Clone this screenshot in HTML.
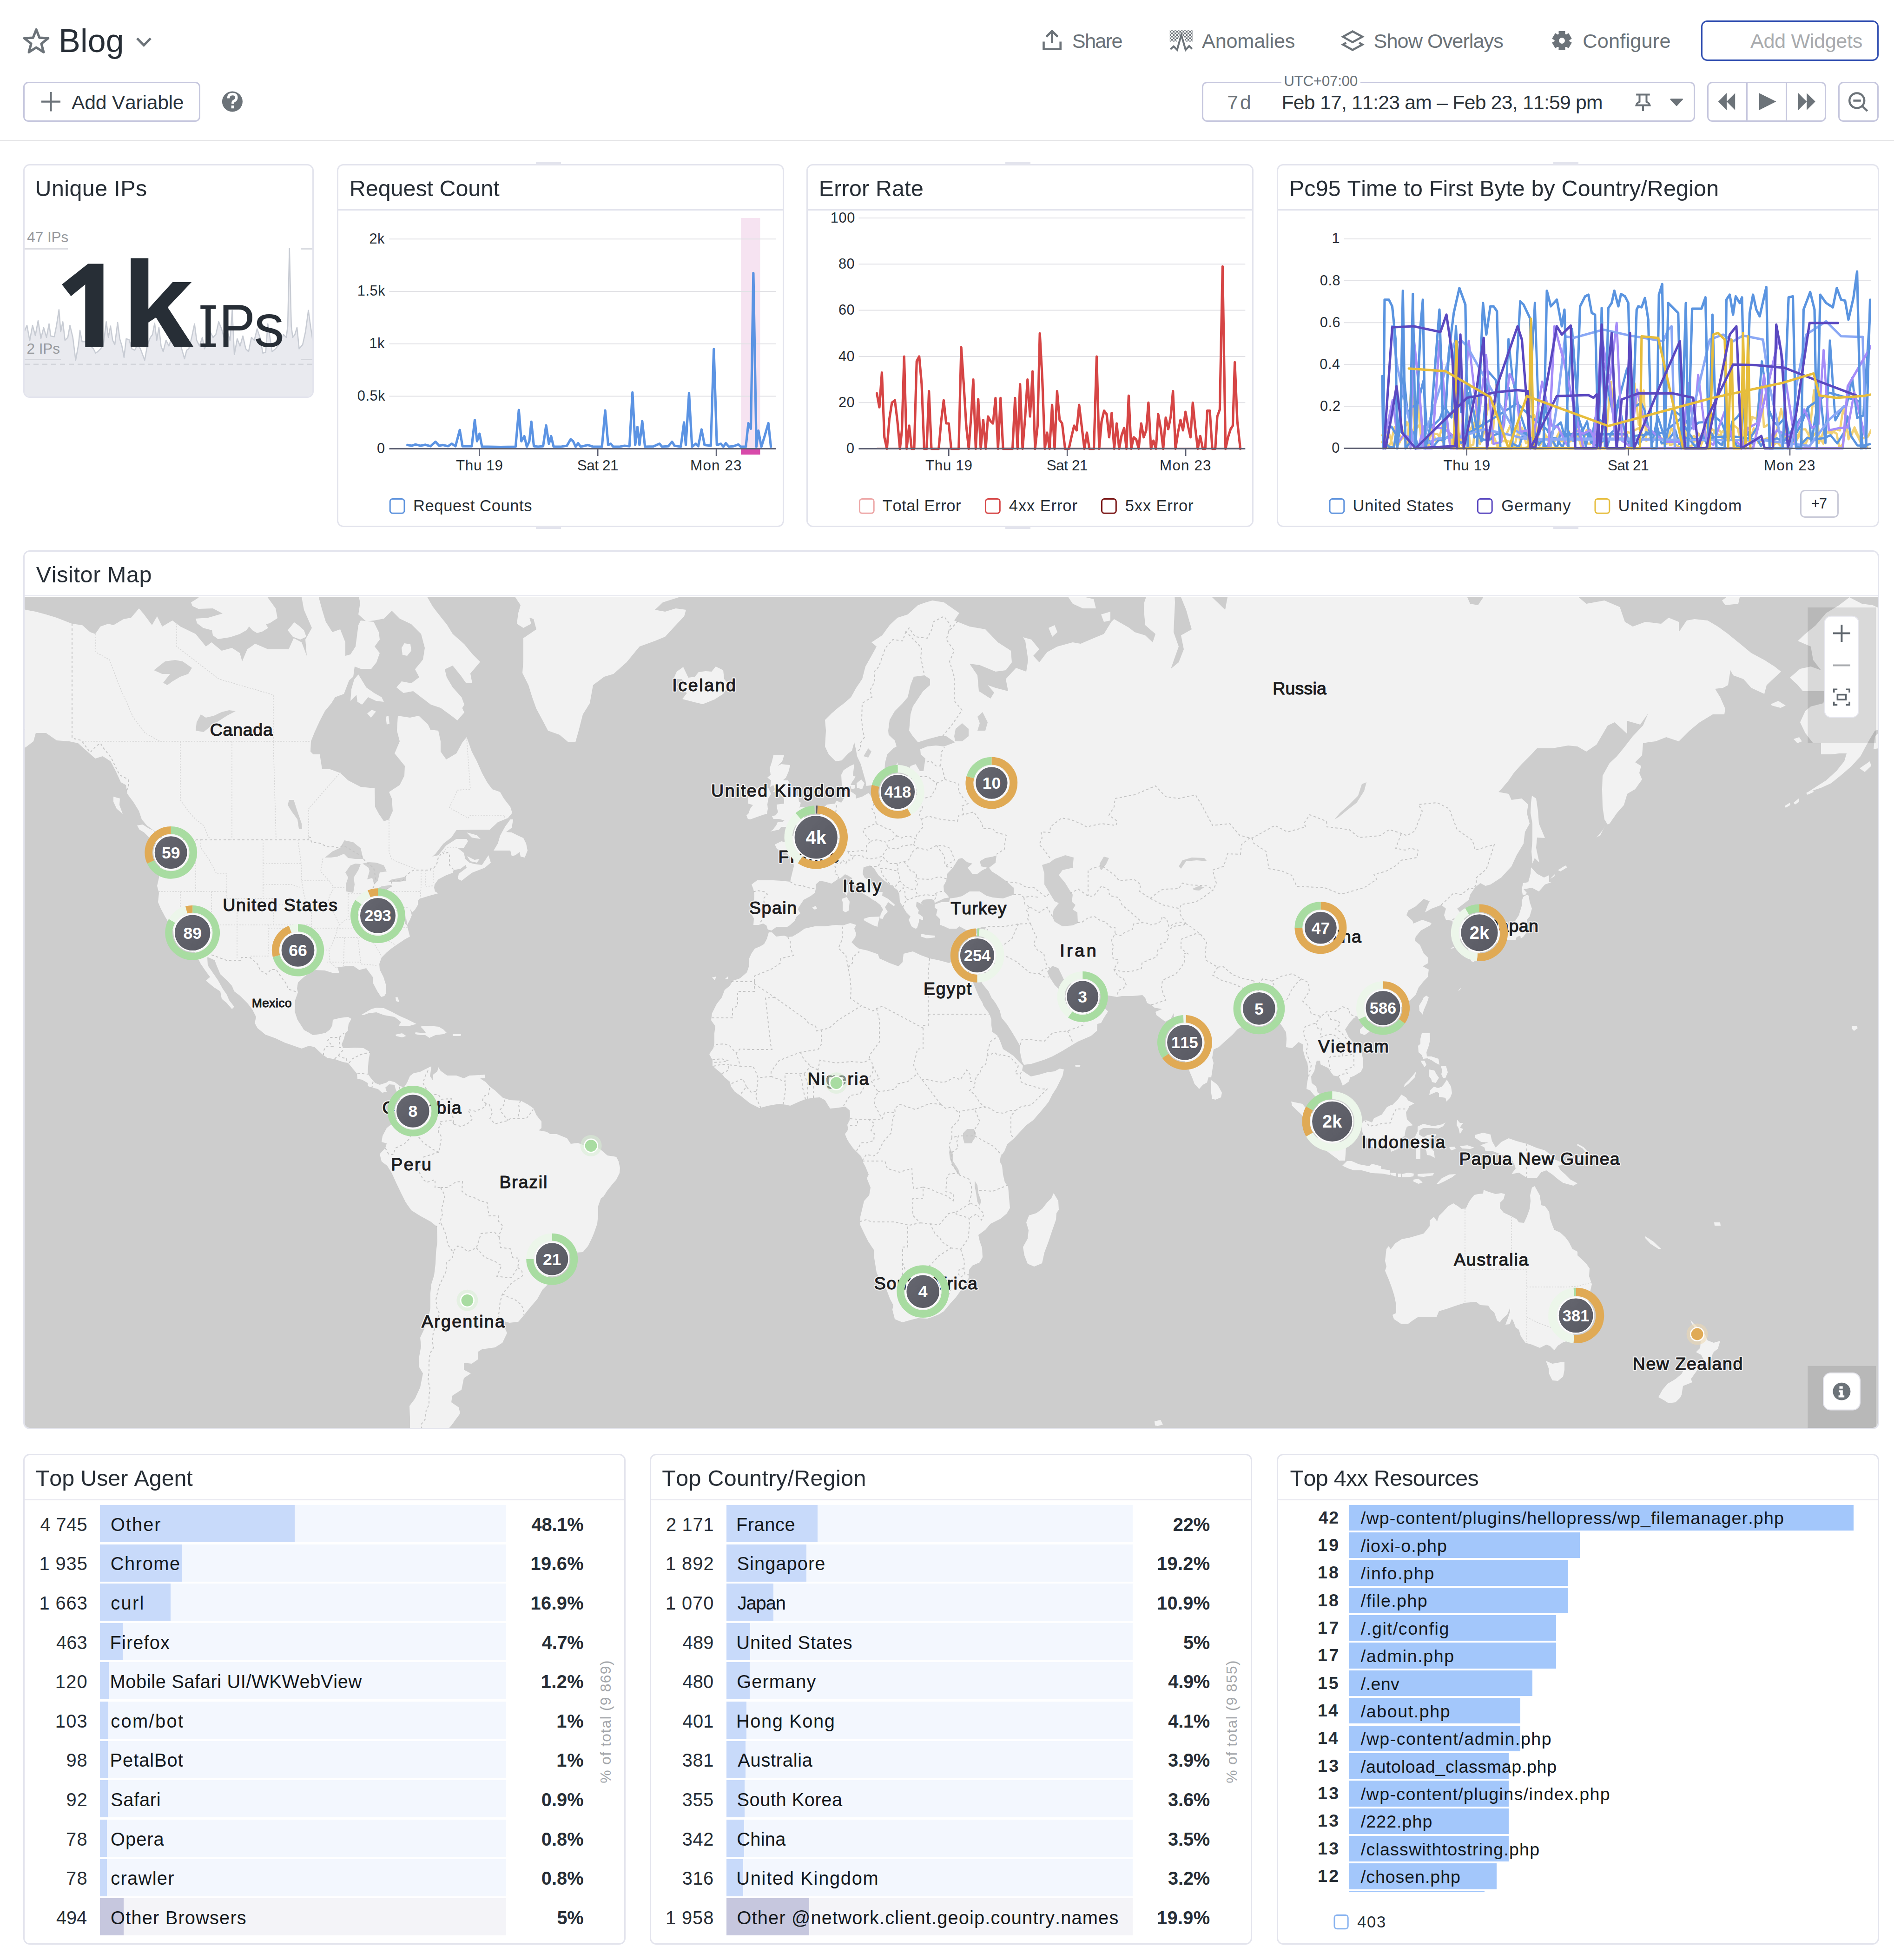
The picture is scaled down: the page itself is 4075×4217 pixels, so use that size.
<!DOCTYPE html>
<html lang="en"><head><meta charset="utf-8"><title>Blog | Datadog</title><style>
html,body{margin:0;padding:0;background:#fff}
body{width:4075px;height:4217px;position:relative;overflow:hidden;font-family:"Liberation Sans",sans-serif;color:#2b333b;font-kerning:none}
.t{position:absolute;white-space:pre;line-height:1}
.a{position:absolute}
.btn{position:absolute;box-sizing:border-box;border:3px solid #c6c7de;border-radius:11px;background:#fff}
.w{position:absolute;box-sizing:border-box;border:3px solid #e3e4ed;border-radius:14px;background:#fff;overflow:hidden}
.hl{position:absolute;left:0;right:0;height:2.5px;background:#e3e4ed}
</style></head><body>
<div class="btn" style="left:50.4px;top:175.7px;width:380.3px;height:85.9px"></div>
<div class="btn" style="left:2586px;top:175.5px;width:1061.4px;height:86px"></div>
<div class="btn" style="left:3673.2px;top:175.5px;width:255.4px;height:86px"></div>
<div class="a" style="left:3757.2px;top:177px;width:3px;height:83px;background:#c6c7de"></div>
<div class="a" style="left:3842.3px;top:177px;width:3px;height:83px;background:#c6c7de"></div>
<div class="btn" style="left:3955px;top:175.5px;width:87px;height:86px"></div>
<div class="btn" style="left:3660.4px;top:44.2px;width:381.6px;height:86.6px;border:3.6px solid #3451b2;border-radius:13px"></div>
<div class="a" style="left:2757px;top:170px;width:170px;height:12px;background:#fff"></div>
<svg class="a" style="left:0;top:0" width="4075" height="300"><defs><pattern id="chk" width="7" height="7" patternUnits="userSpaceOnUse"><rect width="3.5" height="3.5" fill="#6c7379"/><rect x="3.5" y="3.5" width="3.5" height="3.5" fill="#6c7379"/></pattern></defs><polygon points="78.0,63.5 84.8,81.1 103.7,82.2 89.0,94.1 93.9,112.3 78.0,102.1 62.1,112.3 67.0,94.1 52.3,82.2 71.2,81.1" fill="none" stroke="#6c7379" stroke-width="5.2" stroke-linejoin="round"/><polyline points="295,82.5 309.5,97.5 324,82.5" fill="none" stroke="#6c7379" stroke-width="5"/><path d="M88.9 218.7H130M109.4 197.9V239.6" stroke="#6c7379" stroke-width="4.2" fill="none"/><circle cx="499.9" cy="218.5" r="22" fill="#6c7379"/><path d="M491.5 211.5q0-9 8.6-9q8.6 0 8.6 7.6q0 5-5.2 7.3q-2.6 1.2-2.6 4.2v1.6" fill="none" stroke="#fff" stroke-width="5.6"/><rect x="497.6" y="227" width="6.2" height="6.2" fill="#fff"/><path d="M2245.5 89.6V105.7H2281.7V89.6" fill="none" stroke="#6c7379" stroke-width="4.6"/><path d="M2263.5 92.8V67.5M2251.3 79 2263.5 66.8 2275.8 79" fill="none" stroke="#6c7379" stroke-width="4.6"/><path d="M2516.7 65.3H2566.4V89.6H2551.5L2541.6 70 2531.7 89.6H2516.7Z" fill="url(#chk)"/><polyline points="2518.2,105.9 2525.2,99.8 2532.6,107.2 2541.6,74.8 2550.9,107.2 2558.5,99.1 2564.9,105" fill="none" stroke="#6c7379" stroke-width="4"/><path d="M2910.1 67.5 2931.3 79.1 2910.1 90.8 2889.4 79.1Z" fill="none" stroke="#6c7379" stroke-width="4.4" stroke-linejoin="miter"/><path d="M2896.3 92 2889.4 96 2910.1 107.5 2931.3 96 2924.3 92" fill="none" stroke="#6c7379" stroke-width="4.4"/><path d="M3354.7 73.7 L3354.4 67.9 L3366.6 67.9 L3366.3 73.7 L3369.5 75.5 L3374.4 72.5 L3380.5 83.0 L3375.4 85.7 L3375.4 89.3 L3380.5 92.0 L3374.4 102.5 L3369.5 99.5 L3366.3 101.3 L3366.6 107.1 L3354.4 107.1 L3354.7 101.3 L3351.5 99.5 L3346.6 102.5 L3340.5 92.0 L3345.6 89.3 L3345.6 85.7 L3340.5 83.0 L3346.6 72.5 L3351.5 75.5Z M3353.1 87.5 a7.4 7.4 0 1 0 14.8 0 a7.4 7.4 0 1 0 -14.8 0Z" fill="#6c7379" fill-rule="evenodd" stroke="#6c7379" stroke-width="2" stroke-linejoin="round"/><path d="M3520.2 203.4H3549.7M3527.5 203.4V219Q3521.5 221.5 3520.5 226.6H3549.5Q3548.5 221.5 3542.5 219V203.4M3535 226.6V239" fill="none" stroke="#6c7379" stroke-width="4"/><path d="M3594.7 213.6H3619.7L3607.2 227Z" fill="#6c7379" stroke="#6c7379" stroke-width="2.5" stroke-linejoin="round"/><path d="M3696.8 218.6 3715 200.2V237ZM3715 218.6 3733.2 200.2V237Z" fill="#6c7379"/><path d="M3784.7 200.2 3821.5 218.6 3784.7 237Z" fill="#6c7379"/><path d="M3869 200.2 3887.2 218.6 3869 237ZM3887.2 200.2 3905.7 218.6 3887.2 237Z" fill="#6c7379"/><circle cx="3995.2" cy="216.5" r="16" fill="none" stroke="#6c7379" stroke-width="4.4"/><path d="M3987.4 216.5H4003.7M4007 228.5 4017.8 238.8" fill="none" stroke="#6c7379" stroke-width="4.4"/></svg>
<span class="t" style="left:126.2px;top:53.6px;font-size:69.8px;letter-spacing:0.23px;color:#272e36;">Blog</span>
<span class="t" style="left:154.0px;top:198.5px;font-size:42.7px;letter-spacing:-0.26px;">Add Variable</span>
<span class="t" style="left:2306.7px;top:66.8px;font-size:43.2px;letter-spacing:-1.60px;color:#6c7379;">Share</span>
<span class="t" style="left:2586.0px;top:66.8px;font-size:43.2px;letter-spacing:-0.16px;color:#6c7379;">Anomalies</span>
<span class="t" style="left:2955.6px;top:66.8px;font-size:43.2px;letter-spacing:-0.93px;color:#6c7379;">Show Overlays</span>
<span class="t" style="left:3405.3px;top:66.8px;font-size:43.2px;letter-spacing:0.24px;color:#6c7379;">Configure</span>
<span class="t" style="left:3766.0px;top:66.8px;font-size:43.2px;letter-spacing:-0.36px;color:#a9abae;">Add Widgets</span>
<span class="t" style="left:2762.2px;top:158.8px;font-size:31.5px;letter-spacing:-0.37px;color:#6c7379;">UTC+07:00</span>
<span class="t" style="left:2640.3px;top:198.6px;font-size:42.7px;letter-spacing:3.87px;color:#6c7379;">7d</span>
<span class="t" style="left:2757.5px;top:198.6px;font-size:42.7px;letter-spacing:-0.75px;">Feb 17, 11:23 am – Feb 23, 11:59 pm</span>
<div class="a" style="left:0;top:301px;width:4075px;height:2px;background:#e6e6e8"></div>
<div class="w" style="left:50px;top:353px;width:625px;height:503px">
<svg class="a" style="left:0;top:0" width="619" height="497"><path d="M0.0 356.0 L5.0 344.0 L11.0 377.0 L17.0 344.0 L23.0 366.0 L29.0 334.0 L35.0 372.0 L41.0 349.0 L47.0 370.0 L52.5 340.9 L56.2 366.9 L63.8 368.5 L68.4 345.5 L73.9 310.3 L77.6 357.7 L82.2 336.3 L86.8 376.1 L92.9 370.0 L97.5 344.0 L103.7 370.0 L109.8 419.0 L115.9 385.3 L119.0 354.7 L123.6 379.2 L131.2 379.2 L138.9 385.3 L148.1 394.5 L152.6 403.7 L157.2 400.6 L163.4 394.5 L169.5 385.3 L175.6 336.3 L180.2 370.0 L184.8 345.5 L189.4 376.1 L194.0 385.3 L200.1 337.8 L204.7 373.1 L209.3 388.4 L213.9 412.9 L218.5 373.1 L224.6 374.6 L230.7 394.5 L236.9 397.5 L243.0 385.3 L249.1 394.5 L258.3 419.0 L264.4 385.3 L270.5 370.0 L275.1 363.9 L279.7 339.4 L284.3 376.1 L288.9 348.6 L293.5 388.4 L298.1 400.6 L304.2 376.1 L310.4 388.4 L316.5 370.0 L322.6 385.3 L331.8 370.0 L337.9 394.5 L344.0 415.9 L348.6 397.5 L353.2 394.5 L359.4 370.0 L365.5 340.9 L370.1 376.1 L376.2 388.4 L382.3 370.0 L386.9 394.5 L393.0 382.2 L399.2 357.7 L405.3 370.0 L411.4 363.9 L417.5 336.3 L423.7 351.6 L429.8 373.1 L435.9 357.7 L442.0 376.1 L446.6 311.8 L451.2 406.7 L457.4 373.1 L463.5 388.4 L469.6 366.9 L475.7 394.5 L481.8 400.6 L488.0 370.0 L494.1 376.1 L500.2 351.6 L506.3 370.0 L512.5 403.7 L518.6 402.1 L523.2 340.9 L527.8 370.0 L532.4 400.6 L540.0 394.5 L549.2 382.2 L556.9 363.9 L563.0 370.0 L566.1 345.5 L569.7 178.6 L573.7 345.5 L576.8 370.0 L581.4 363.9 L586.0 348.6 L590.6 394.5 L598.2 385.3 L604.3 357.7 L610.5 311.8 L615.1 345.5 L619.7 376.1 L622.0 379.0 L622.0 497 L0.0 497Z" fill="#e9eaef"/><polyline points="0.0,356.0 5.0,344.0 11.0,377.0 17.0,344.0 23.0,366.0 29.0,334.0 35.0,372.0 41.0,349.0 47.0,370.0 52.5,340.9 56.2,366.9 63.8,368.5 68.4,345.5 73.9,310.3 77.6,357.7 82.2,336.3 86.8,376.1 92.9,370.0 97.5,344.0 103.7,370.0 109.8,419.0 115.9,385.3 119.0,354.7 123.6,379.2 131.2,379.2 138.9,385.3 148.1,394.5 152.6,403.7 157.2,400.6 163.4,394.5 169.5,385.3 175.6,336.3 180.2,370.0 184.8,345.5 189.4,376.1 194.0,385.3 200.1,337.8 204.7,373.1 209.3,388.4 213.9,412.9 218.5,373.1 224.6,374.6 230.7,394.5 236.9,397.5 243.0,385.3 249.1,394.5 258.3,419.0 264.4,385.3 270.5,370.0 275.1,363.9 279.7,339.4 284.3,376.1 288.9,348.6 293.5,388.4 298.1,400.6 304.2,376.1 310.4,388.4 316.5,370.0 322.6,385.3 331.8,370.0 337.9,394.5 344.0,415.9 348.6,397.5 353.2,394.5 359.4,370.0 365.5,340.9 370.1,376.1 376.2,388.4 382.3,370.0 386.9,394.5 393.0,382.2 399.2,357.7 405.3,370.0 411.4,363.9 417.5,336.3 423.7,351.6 429.8,373.1 435.9,357.7 442.0,376.1 446.6,311.8 451.2,406.7 457.4,373.1 463.5,388.4 469.6,366.9 475.7,394.5 481.8,400.6 488.0,370.0 494.1,376.1 500.2,351.6 506.3,370.0 512.5,403.7 518.6,402.1 523.2,340.9 527.8,370.0 532.4,400.6 540.0,394.5 549.2,382.2 556.9,363.9 563.0,370.0 566.1,345.5 569.7,178.6 573.7,345.5 576.8,370.0 581.4,363.9 586.0,348.6 590.6,394.5 598.2,385.3 604.3,357.7 610.5,311.8 615.1,345.5 619.7,376.1 622.0,379.0" fill="none" stroke="#c8ccd4" stroke-width="2.6" stroke-linejoin="round" stroke-linecap="round" /><line x1="0.0" x2="93.0" y1="179.5" y2="179.5" stroke="#d3d5db" stroke-width="2.6" /><line x1="594.0" x2="619.0" y1="179.5" y2="179.5" stroke="#d3d5db" stroke-width="2.6" /><line x1="0.0" x2="78.0" y1="417.5" y2="417.5" stroke="#d3d5db" stroke-width="2.6" /><line x1="594.0" x2="619.0" y1="417.5" y2="417.5" stroke="#d3d5db" stroke-width="2.6" /><line x1="0.0" x2="619.0" y1="427.8" y2="427.8" stroke="#d3d5db" stroke-width="2.4" stroke-dasharray="11 8"/><path d="M378.3 301.0h33.1v7.7h-10.9v74.4h10.9v7.7h-33.1v-7.7h10.9v-74.4h-10.9z" fill="#272e36"/><polygon points="169.5,211.4 169.5,390.8 130.3,390.8 130.3,256.1 99.7,281.2 80.1,256.1 136.4,211.4" fill="#272e36"/></svg></div>
<span class="t" style="left:75.5px;top:381.2px;font-size:48.4px;letter-spacing:0.44px;color:#272e36;">Unique IPs</span>
<span class="t" style="left:58.2px;top:494.9px;font-size:31.5px;letter-spacing:-0.03px;color:#979a9e;">47 IPs</span>
<span class="t" style="left:57.5px;top:735.0px;font-size:31.5px;letter-spacing:-0.07px;color:#979a9e;">2 IPs</span>
<span class="t" style="left:261.5px;top:524.1px;font-size:263.0px;font-weight:700;color:#272e36;transform:scaleX(1.0517);transform-origin:0 0;">k</span>
<span class="t" style="left:471.0px;top:636.3px;font-size:130.5px;color:#272e36;transform:scaleX(0.8971);transform-origin:0 0;">P</span>
<span class="t" style="left:546.5px;top:636.3px;font-size:130.5px;color:#272e36;transform:scaleX(1.0000);transform-origin:0 0;">s</span>
<div class="w" style="left:725px;top:353px;width:962px;height:781px"><div class="hl" style="top:94.4px"></div></div>
<svg class="a" style="left:0;top:0" width="4075" height="1140" pointer-events="none"><rect x="1594" y="469" width="41.4" height="496.6" fill="#f6e3f1"/><rect x="1594" y="965.6" width="41.4" height="12.4" fill="#d84aaa"/><line x1="837.5" x2="1669.3" y1="514.2" y2="514.2" stroke="#e2e2e6" stroke-width="2"/><line x1="837.5" x2="1669.3" y1="626.9" y2="626.9" stroke="#e2e2e6" stroke-width="2"/><line x1="837.5" x2="1669.3" y1="739.7" y2="739.7" stroke="#e2e2e6" stroke-width="2"/><line x1="837.5" x2="1669.3" y1="852.6" y2="852.6" stroke="#e2e2e6" stroke-width="2"/><polyline points="876.6,957.4 885.8,959.0 893.9,956.3 904.6,959.0 915.4,956.9 926.2,960.1 937.0,950.4 945.0,959.0 953.1,957.4 963.9,960.1 972.0,954.7 980.0,960.1 989.2,925.1 995.1,960.1 1007.0,960.1 1015.0,960.1 1021.5,903.5 1026.4,949.3 1031.7,933.2 1037.1,961.2 1050.0,961.2 1077.0,961.7 1109.3,961.2 1116.3,882.0 1121.7,949.3 1128.1,938.5 1133.5,961.2 1138.9,949.3 1143.2,907.3 1148.6,960.1 1157.8,961.2 1168.5,960.1 1175.0,915.4 1180.9,954.7 1185.8,938.5 1191.1,961.2 1206.2,961.2 1219.7,959.0 1227.8,945.0 1233.1,949.3 1238.5,961.2 1243.9,953.6 1249.3,961.2 1264.4,957.4 1276.2,961.2 1295.1,961.2 1302.1,883.1 1308.5,957.4 1313.9,954.7 1319.3,961.2 1332.8,961.2 1343.5,959.0 1354.3,960.1 1360.8,844.3 1366.7,957.4 1371.5,918.6 1375.9,957.4 1381.8,906.2 1387.7,961.2 1405.5,960.6 1418.9,954.7 1424.3,961.2 1437.8,960.1 1445.9,950.4 1451.3,959.0 1464.7,961.2 1471.7,908.9 1475.5,957.4 1482.5,845.9 1488.9,961.2 1497.0,954.7 1502.4,960.1 1509.4,924.0 1515.9,957.4 1529.3,959.0 1535.8,751.1 1542.3,957.4 1550.9,954.7 1556.3,961.2 1561.7,953.6 1568.1,961.2 1577.8,960.1 1588.6,956.3 1594.0,961.2 1604.7,961.2 1610.1,910.5 1615.5,922.4 1620.9,587.4 1627.4,961.2 1631.7,926.7 1638.1,961.2 1645.1,938.5 1653.2,910.5 1658.6,961.2" fill="none" stroke="#5b93e3" stroke-width="5.2" stroke-linejoin="round" stroke-linecap="round" /><line x1="837.5" x2="1669.3" y1="965.6" y2="965.6" stroke="#5d6072" stroke-width="3"/><line x1="1031.3" x2="1031.3" y1="965.6" y2="981.1" stroke="#5d6072" stroke-width="2.6"/><line x1="1286.2" x2="1286.2" y1="965.6" y2="981.1" stroke="#5d6072" stroke-width="2.6"/><line x1="1541.1" x2="1541.1" y1="965.6" y2="981.1" stroke="#5d6072" stroke-width="2.6"/></svg>
<span class="t" style="left:751.8px;top:380.8px;font-size:48.4px;color:#272e36;">Request Count</span>
<span class="t" style="left:794.4px;top:498.7px;font-size:30.7px;color:#272e36;letter-spacing:0.6px;">2k</span>
<span class="t" style="left:768.8px;top:611.4px;font-size:30.7px;color:#272e36;letter-spacing:0.6px;">1.5k</span>
<span class="t" style="left:794.4px;top:724.2px;font-size:30.7px;color:#272e36;letter-spacing:0.6px;">1k</span>
<span class="t" style="left:768.8px;top:837.1px;font-size:30.7px;color:#272e36;letter-spacing:0.6px;">0.5k</span>
<span class="t" style="left:811.0px;top:950.1px;font-size:30.7px;color:#272e36;letter-spacing:0.6px;">0</span>
<span class="t" style="left:981.0px;top:986.0px;font-size:31.4px;letter-spacing:0.64px;color:#272e36;">Thu 19</span>
<span class="t" style="left:1241.7px;top:986.0px;font-size:31.4px;letter-spacing:-0.41px;color:#272e36;">Sat 21</span>
<span class="t" style="left:1485.1px;top:986.0px;font-size:31.4px;letter-spacing:1.14px;color:#272e36;">Mon 23</span>
<svg class="a" style="left:0;top:1060px" width="4075" height="60"><rect x="839.2" y="13.5" width="30.8" height="30.8" rx="5.5" fill="#fff" stroke="#5e93dd" stroke-width="3"/></svg>
<span class="t" style="left:889.0px;top:1070.5px;font-size:34.5px;letter-spacing:0.63px;color:#272e36;">Request Counts</span>
<div class="w" style="left:1735px;top:353px;width:962px;height:781px"><div class="hl" style="top:94.4px"></div></div>
<svg class="a" style="left:0;top:0" width="4075" height="1140" pointer-events="none"><line x1="1847.5" x2="2679.3" y1="469.0" y2="469.0" stroke="#e2e2e6" stroke-width="2"/><line x1="1847.5" x2="2679.3" y1="568.3" y2="568.3" stroke="#e2e2e6" stroke-width="2"/><line x1="1847.5" x2="2679.3" y1="667.6" y2="667.6" stroke="#e2e2e6" stroke-width="2"/><line x1="1847.5" x2="2679.3" y1="767.0" y2="767.0" stroke="#e2e2e6" stroke-width="2"/><line x1="1847.5" x2="2679.3" y1="866.3" y2="866.3" stroke="#e2e2e6" stroke-width="2"/><polyline points="1886.6,846.4 1892.0,876.2 1897.4,801.7 1902.8,940.8 1908.2,965.6 1913.6,901.0 1919.0,866.3 1925.4,861.3 1930.8,906.0 1936.2,965.6 1940.5,925.9 1945.3,767.0 1950.7,965.6 1956.1,915.9 1961.5,965.6 1966.9,965.6 1972.3,776.9 1977.7,767.0 1983.0,826.6 1988.4,965.6 1993.8,965.6 1998.7,841.5 2004.0,965.6 2019.7,965.6 2025.0,906.0 2030.4,861.3 2035.8,911.0 2041.2,911.0 2046.6,965.6 2062.7,965.6 2068.1,747.1 2073.5,826.6 2078.9,915.9 2084.3,965.6 2089.7,891.1 2094.0,816.6 2099.4,965.6 2104.7,858.8 2110.1,965.6 2115.5,903.5 2120.9,965.6 2125.7,896.1 2131.1,906.0 2136.5,911.0 2141.9,856.3 2147.3,965.6 2152.7,856.3 2158.1,965.6 2178.5,965.6 2183.9,856.3 2189.3,965.6 2194.7,826.6 2200.1,965.6 2205.4,901.0 2210.8,816.6 2216.2,896.1 2221.6,799.2 2227.0,965.6 2232.4,915.9 2237.2,717.3 2242.6,816.6 2248.0,965.6 2252.8,930.8 2258.2,965.6 2263.6,871.2 2269.0,965.6 2274.4,841.5 2279.8,903.5 2285.2,911.0 2291.6,965.6 2299.7,965.6 2305.1,940.8 2311.0,915.9 2316.4,925.9 2321.8,871.2 2327.2,915.9 2333.1,965.6 2338.5,930.8 2343.9,965.6 2353.5,965.6 2359.5,767.0 2364.9,965.6 2370.2,906.0 2375.6,883.7 2381.0,891.1 2386.4,940.8 2391.8,888.6 2397.2,965.6 2402.6,911.0 2407.9,965.6 2413.3,935.8 2418.7,920.9 2423.6,965.6 2428.4,851.4 2433.8,965.6 2439.2,940.8 2444.6,945.7 2449.9,965.6 2455.3,911.0 2460.7,940.8 2466.1,925.9 2470.9,866.3 2476.3,965.6 2481.7,948.2 2487.1,965.6 2491.9,891.1 2497.3,920.9 2502.7,965.6 2508.1,898.6 2513.5,923.4 2518.9,896.1 2523.7,841.5 2529.1,965.6 2534.5,930.8 2539.9,903.5 2545.3,925.9 2550.6,886.1 2556.0,915.9 2561.4,940.8 2566.3,866.3 2571.7,920.9 2577.0,965.6 2582.4,938.3 2587.8,965.6 2593.2,965.6 2597.5,883.7 2602.9,883.7 2608.3,965.6 2614.7,965.6 2619.0,896.1 2624.4,881.2 2630.4,573.3 2636.8,965.6 2642.2,940.8 2647.6,923.4 2652.4,915.9 2656.7,779.4 2662.1,906.0 2668.6,965.6" fill="none" stroke="#d64545" stroke-width="5.2" stroke-linejoin="round" stroke-linecap="round" /><line x1="1886.6" x2="2668.5" y1="964.6" y2="964.6" stroke="#7d1a1a" stroke-width="2.4"/><line x1="1847.5" x2="2679.3" y1="965.6" y2="965.6" stroke="#5d6072" stroke-width="3"/><line x1="2041.3" x2="2041.3" y1="965.6" y2="981.1" stroke="#5d6072" stroke-width="2.6"/><line x1="2296.2" x2="2296.2" y1="965.6" y2="981.1" stroke="#5d6072" stroke-width="2.6"/><line x1="2551.1" x2="2551.1" y1="965.6" y2="981.1" stroke="#5d6072" stroke-width="2.6"/></svg>
<span class="t" style="left:1761.8px;top:380.8px;font-size:48.4px;letter-spacing:0.20px;color:#272e36;">Error Rate</span>
<span class="t" style="left:1786.8px;top:453.5px;font-size:30.7px;color:#272e36;letter-spacing:0.6px;">100</span>
<span class="t" style="left:1803.9px;top:552.8px;font-size:30.7px;color:#272e36;letter-spacing:0.6px;">80</span>
<span class="t" style="left:1803.9px;top:652.1px;font-size:30.7px;color:#272e36;letter-spacing:0.6px;">60</span>
<span class="t" style="left:1803.9px;top:751.5px;font-size:30.7px;color:#272e36;letter-spacing:0.6px;">40</span>
<span class="t" style="left:1803.9px;top:850.8px;font-size:30.7px;color:#272e36;letter-spacing:0.6px;">20</span>
<span class="t" style="left:1821.0px;top:950.1px;font-size:30.7px;color:#272e36;letter-spacing:0.6px;">0</span>
<span class="t" style="left:1991.0px;top:986.0px;font-size:31.4px;letter-spacing:0.64px;color:#272e36;">Thu 19</span>
<span class="t" style="left:2251.7px;top:986.0px;font-size:31.4px;letter-spacing:-0.41px;color:#272e36;">Sat 21</span>
<span class="t" style="left:2495.1px;top:986.0px;font-size:31.4px;letter-spacing:1.14px;color:#272e36;">Mon 23</span>
<svg class="a" style="left:0;top:1060px" width="4075" height="60"><rect x="1849.4" y="13.5" width="30.8" height="30.8" rx="5.5" fill="#fff" stroke="#eda7a7" stroke-width="3"/><rect x="2120.5" y="13.5" width="30.8" height="30.8" rx="5.5" fill="#fff" stroke="#d64545" stroke-width="3"/><rect x="2370.5" y="13.5" width="30.8" height="30.8" rx="5.5" fill="#fff" stroke="#7a1616" stroke-width="3"/></svg>
<span class="t" style="left:1898.8px;top:1070.5px;font-size:34.5px;letter-spacing:0.57px;color:#272e36;">Total Error</span>
<span class="t" style="left:2170.8px;top:1070.5px;font-size:34.5px;letter-spacing:0.90px;color:#272e36;">4xx Error</span>
<span class="t" style="left:2420.8px;top:1070.5px;font-size:34.5px;letter-spacing:0.85px;color:#272e36;">5xx Error</span>
<div class="a" style="left:1152.5px;top:348.7px;width:54px;height:4.3px;background:#e3e4ed"></div><div class="a" style="left:1152.5px;top:1134.0px;width:54px;height:4.3px;background:#e3e4ed"></div><div class="a" style="left:2162.5px;top:348.7px;width:54px;height:4.3px;background:#e3e4ed"></div><div class="a" style="left:2162.5px;top:1134.0px;width:54px;height:4.3px;background:#e3e4ed"></div><div class="a" style="left:3341.5px;top:348.7px;width:54px;height:4.3px;background:#e3e4ed"></div><div class="a" style="left:3341.5px;top:1134.0px;width:54px;height:4.3px;background:#e3e4ed"></div>
<div class="w" style="left:2747px;top:353px;width:1296px;height:781px"><div class="hl" style="top:94.4px"></div></div>
<svg class="a" style="left:0;top:0" width="4075" height="1140" pointer-events="none"><line x1="2891.7" x2="4025.6" y1="513.9" y2="513.9" stroke="#e2e2e6" stroke-width="2"/><line x1="2891.7" x2="4025.6" y1="604.0" y2="604.0" stroke="#e2e2e6" stroke-width="2"/><line x1="2891.7" x2="4025.6" y1="694.2" y2="694.2" stroke="#e2e2e6" stroke-width="2"/><line x1="2891.7" x2="4025.6" y1="784.3" y2="784.3" stroke="#e2e2e6" stroke-width="2"/><line x1="2891.7" x2="4025.6" y1="874.5" y2="874.5" stroke="#e2e2e6" stroke-width="2"/><g clip-path="url(#pcc)"><clipPath id="pcc"><rect x="2891" y="460" width="1134.6" height="510"/></clipPath><polyline points="2974.0,951.7 2981.0,931.9 2986.2,963.9 2992.5,951.9 3000.2,919.3 3008.9,956.4 3019.1,936.3 3028.1,961.1 3036.5,828.6 3044.2,925.7 3053.4,914.8 3063.2,940.5 3073.4,959.3 3079.5,912.4 3088.2,948.3 3095.4,945.6 3103.8,915.7 3114.3,918.3 3123.3,955.7 3134.1,915.6 3143.3,953.1 3151.6,829.7 3162.6,959.8 3169.9,956.4 3179.4,852.3 3184.4,925.7 3194.7,911.5 3205.7,853.7 3210.6,953.9 3219.2,828.3 3225.9,912.7 3233.0,939.7 3241.8,932.4 3250.4,913.7 3257.8,925.6 3264.5,911.7 3272.6,963.9 3281.0,963.5 3289.7,961.3 3297.4,927.8 3306.5,904.8 3315.5,912.5 3323.1,932.5 3330.1,947.7 3338.6,948.3 3348.2,963.1 3357.5,947.8 3367.3,951.7 3374.8,926.8 3381.5,946.5 3389.0,918.3 3395.8,929.4 3403.4,952.4 3411.5,954.2 3421.5,954.6 3431.3,929.8 3438.2,957.6 3447.9,949.9 3455.2,941.9 3465.7,821.2 3476.0,911.2 3486.7,914.4 3496.1,919.3 3504.1,948.9 3510.3,960.9 3516.8,825.0 3525.9,914.6 3536.3,839.9 3542.1,948.3 3550.1,942.2 3558.7,946.1 3568.8,938.8 3575.8,953.9 3585.6,955.3 3596.1,921.0 3600.9,930.6 3605.9,949.9 3614.0,941.7 3623.6,898.5 3629.1,960.9 3639.2,959.9 3645.9,947.6 3654.7,932.8 3660.6,946.8 3668.9,925.8 3674.1,954.9 3682.6,922.2 3692.4,930.9 3699.4,937.7 3706.8,927.0 3713.1,935.6 3718.2,941.6 3728.5,913.9 3738.9,921.8 3746.5,957.9 3755.4,916.6 3764.3,924.9 3769.7,896.9 3779.3,901.1 3789.6,830.8 3795.1,918.9 3805.0,913.1 3814.8,962.6 3822.7,925.9 3832.2,879.8 3840.4,919.8 3846.3,951.0 3855.8,943.3 3863.0,945.6 3868.2,937.5 3875.5,924.1 3884.6,923.7 3892.6,938.4 3903.0,839.7 3913.5,936.6 3922.7,954.5 3928.7,932.9 3934.9,927.2 3941.5,926.4 3951.5,932.9 3957.6,963.3 3964.8,955.3 3971.5,922.7 3982.5,938.6 3990.1,919.4 3998.4,938.5 4008.5,942.9 4019.3,939.3 4025.5,925.8" fill="none" stroke="#f2d275" stroke-width="4.8" stroke-linejoin="round" stroke-linecap="round" /><polyline points="2974.0,936.5 2985.5,922.1 2997.9,963.3 3010.5,935.3 3016.9,943.4 3026.6,907.8 3034.2,923.3 3041.0,928.6 3051.2,872.4 3058.3,954.9 3070.4,951.5 3080.0,934.0 3092.5,933.4 3104.8,951.1 3111.6,903.2 3121.7,964.4 3129.7,950.6 3138.9,950.3 3149.7,962.0 3155.5,930.8 3161.2,929.1 3171.1,909.7 3183.8,955.7 3196.3,922.1 3204.5,940.9 3210.9,930.8 3222.8,962.9 3229.1,949.2 3241.5,949.2 3251.1,950.5 3258.0,961.0 3268.8,919.6 3274.7,920.1 3283.3,953.9 3295.0,944.0 3301.0,892.8 3312.8,958.7 3325.5,936.2 3331.9,945.0 3343.7,951.3 3356.7,926.2 3365.7,942.6 3374.8,951.5 3381.5,947.6 3394.2,936.3 3402.3,960.6 3413.7,925.5 3425.2,929.6 3435.7,930.3 3446.5,951.9 3457.8,933.4 3470.4,935.3 3476.1,939.9 3486.7,943.7 3497.1,928.6 3507.4,931.3 3515.6,926.6 3526.3,920.6 3535.8,940.7 3547.6,922.3 3558.3,932.1 3565.1,929.4 3575.7,945.6 3587.0,935.9 3592.8,957.4 3603.2,954.7 3613.5,962.7 3620.8,962.1 3628.7,956.4 3634.5,943.6 3644.7,938.0 3657.0,964.5 3664.6,946.1 3676.4,886.3 3682.7,940.0 3692.6,921.4 3701.3,927.9 3709.6,958.2 3719.4,921.4 3729.5,948.7 3735.1,959.7 3745.2,958.2 3757.5,947.6 3764.7,951.4 3773.1,921.2 3783.1,952.9 3792.4,945.8 3805.3,942.4 3814.4,959.1 3823.3,951.4 3835.1,964.0 3842.7,922.4 3850.1,952.5 3863.0,951.4 3872.1,935.5 3883.2,959.2 3891.1,940.5 3898.8,940.7 3907.1,931.0 3913.0,953.2 3925.4,924.5 3931.1,929.5 3940.9,932.7 3950.1,923.5 3958.6,926.2 3966.4,874.3 3977.1,945.1 3988.5,923.5 3997.6,939.8 4005.7,957.6 4017.3,961.5" fill="none" stroke="#f2d275" stroke-width="4.8" stroke-linejoin="round" stroke-linecap="round" /><polyline points="2977.5,951.4 2989.6,961.6 2999.2,962.2 3005.9,913.4 3016.0,931.0 3024.4,939.1 3035.7,948.5 3042.6,929.7 3050.3,959.8 3063.7,957.2 3075.6,949.5 3082.6,962.2 3094.9,947.2 3106.4,946.2 3119.6,936.2 3131.0,943.3 3143.7,952.9 3151.1,947.6 3158.9,845.7 3171.9,941.3 3181.0,936.4 3192.4,946.1 3207.0,945.3 3213.9,936.1 3228.9,931.2 3238.7,869.9 3246.5,834.0 3254.1,954.5 3268.0,961.3 3279.2,928.7 3293.0,953.3 3302.5,928.7 3310.3,957.4 3318.7,944.9 3327.4,964.4 3337.0,941.6 3349.4,943.7 3361.6,962.4 3374.8,929.1 3384.6,948.4 3396.4,899.5 3404.3,924.0 3412.0,960.5 3418.7,929.1 3426.4,954.3 3436.0,959.6 3450.9,945.7 3458.1,960.4 3466.8,930.9 3473.4,926.0 3481.1,862.1 3496.0,929.5 3504.7,949.7 3517.7,943.0 3527.0,955.5 3541.9,930.0 3555.4,934.6 3566.2,920.7 3575.1,954.1 3589.7,946.4 3604.6,925.8 3613.0,955.4 3621.2,939.3 3634.8,945.1 3648.1,961.1 3662.4,932.8 3672.9,957.3 3682.2,932.1 3692.0,948.3 3704.7,957.7 3712.4,927.9 3720.1,931.0 3732.2,950.4 3739.8,964.0 3751.8,943.2 3762.0,929.2 3770.2,954.4 3778.7,940.8 3788.8,959.3 3798.2,946.0 3812.4,947.5 3823.2,943.0 3829.8,946.7 3836.2,932.2 3846.8,935.2 3856.0,943.5 3869.2,960.3 3877.7,953.3 3888.5,941.8 3902.8,946.6 3913.6,943.8 3923.9,942.9 3938.4,936.2 3953.0,954.0 3967.5,930.5 3975.0,895.8 3982.0,937.4 3996.2,958.3 4008.3,958.8 4023.0,955.7" fill="none" stroke="#5a94e0" stroke-width="4.8" stroke-linejoin="round" stroke-linecap="round" /><polyline points="3149.2,938.1 3220.8,895.2 3263.7,868.0 3292.3,895.2 3328.1,923.8 3349.6,964.6 3356.7,934.5 3499.8,934.5 3507.0,964.6 3514.1,938.1 3578.5,930.9 3614.3,902.3 3642.9,945.3 3721.6,938.1 3836.0,952.4 3893.3,873.7 3936.2,845.1 4000.6,863.0 4007.7,964.6" fill="none" stroke="#5a94e0" stroke-width="4.8" stroke-linejoin="round" stroke-linecap="round" /><polyline points="2977.5,918.9 2993.8,917.8 3006.8,940.6 3020.3,806.1 3028.5,889.9 3036.2,875.9 3049.8,871.0 3062.3,819.9 3069.8,917.9 3085.3,913.4 3097.5,901.8 3107.5,874.6 3123.0,898.1 3132.5,701.7 3143.7,886.9 3160.3,827.2 3176.5,917.4 3187.6,949.6 3202.5,799.5 3219.2,818.9 3227.5,950.7 3236.5,910.2 3245.6,729.4 3254.1,813.6 3270.8,890.4 3286.7,938.5 3302.3,651.5 3311.7,934.6 3322.2,854.1 3335.2,935.8 3346.1,918.8 3358.1,908.9 3367.2,943.0 3382.4,707.8 3398.9,939.6 3414.7,906.6 3423.1,952.4 3432.7,898.4 3448.0,907.2 3457.0,823.0 3469.7,886.4 3479.7,870.7 3489.7,834.7 3500.6,792.8 3516.5,876.0 3530.5,866.5 3538.0,881.7 3554.7,953.8 3566.7,896.3 3583.7,949.4 3598.2,882.5 3612.3,891.2 3623.0,900.0 3638.8,921.7 3654.5,909.1 3665.5,908.3 3673.6,903.7 3689.4,896.5 3703.9,908.4 3719.3,948.8 3726.9,906.8 3736.5,898.9 3749.7,880.9 3757.2,931.1 3766.4,941.8 3780.1,919.7 3790.6,777.3 3805.8,881.4 3816.8,908.2 3825.4,915.3 3841.0,897.9 3851.0,941.8 3860.9,938.2 3874.3,915.5 3889.8,875.9 3897.8,953.0 3905.5,898.1 3915.8,843.8 3927.5,953.5 3937.1,732.6 3948.8,904.4 3963.9,877.8 3973.2,872.0 3985.1,813.1 3995.7,899.0 4009.0,894.2 4024.0,664.3" fill="none" stroke="#5a94e0" stroke-width="4.8" stroke-linejoin="round" stroke-linecap="round" /><polyline points="2977.5,950.6 2996.4,860.6 3008.2,952.4 3019.8,935.8 3033.6,941.2 3051.5,963.8 3063.3,917.4 3083.7,919.9 3106.1,921.6 3127.2,938.2 3144.5,941.3 3160.0,733.2 3180.4,911.3 3197.5,764.1 3213.3,955.0 3230.0,950.9 3247.9,804.3 3260.8,831.2 3271.7,929.3 3286.7,925.7 3297.1,956.9 3318.0,821.0 3339.3,916.6 3351.9,918.4 3371.2,957.2 3389.0,925.5 3407.0,933.2 3421.6,925.2 3435.3,955.7 3446.7,771.3 3463.9,815.4 3478.3,694.6 3489.7,948.3 3507.5,960.4 3522.2,838.1 3538.6,912.1 3554.7,928.4 3565.0,937.5 3584.6,950.6 3605.6,950.6 3620.2,951.4 3632.7,824.5 3643.8,923.6 3653.7,806.5 3670.9,946.6 3686.5,957.2 3697.8,920.0 3711.7,882.7 3726.3,940.7 3749.2,962.2 3760.8,921.1 3782.4,909.4 3795.5,806.9 3810.3,945.9 3823.0,925.7 3845.2,936.5 3860.9,933.6 3881.8,880.8 3898.7,920.6 3912.5,912.5 3923.5,753.2 3934.8,925.8 3957.8,920.8 3975.9,919.5 3989.6,843.8 4012.6,939.1" fill="none" stroke="#a58cf8" stroke-width="4.8" stroke-linejoin="round" stroke-linecap="round" /><polyline points="3045.5,964.6 3092.0,943.8 3142.1,939.5 3192.2,923.8 3235.1,932.4 3292.3,946.7 3363.9,943.8 3435.4,943.8 3507.0,943.8" fill="none" stroke="#8aa8f5" stroke-width="5.2" stroke-linejoin="round" stroke-linecap="round" /><polyline points="2995.4,702.0 3006.2,787.9 3045.5,964.6 3063.4,945.3 3127.8,739.2 3145.7,734.2 3156.4,744.9 3220.8,859.4 3256.6,923.8 3292.3,945.3 3331.7,945.3 3507.0,945.3 3635.7,946.7 3793.1,946.7 3893.3,959.6 3936.2,902.3 3968.4,873.7" fill="none" stroke="#8aa8f5" stroke-width="5.2" stroke-linejoin="round" stroke-linecap="round" /><polyline points="3335.3,964.6 3349.6,873.7 3367.4,723.5 3385.3,727.1 3449.7,709.2 3507.0,722.0 3578.5,734.2 3589.2,709.2 3596.4,702.0 3603.5,964.6 3628.6,964.6 3642.9,880.9 3678.6,730.6 3707.3,719.9 3728.7,734.2 3750.2,722.0 3793.1,730.6 3807.4,830.8 3836.0,964.6 3853.9,964.6 3864.7,830.8 3886.1,719.9 3929.0,691.3 3961.2,723.5 4007.7,724.9 4014.9,964.6" fill="none" stroke="#8aa8f5" stroke-width="5.2" stroke-linejoin="round" stroke-linecap="round" /><polyline points="3034.8,964.6 3040.5,716.3 3052.7,830.8 3063.4,964.6 3081.3,964.6 3097.0,734.2 3109.9,873.7 3120.6,964.6 3331.7,964.6 3344.6,702.0 3363.9,773.6 3406.8,964.6 3428.3,964.6 3446.1,723.5 3464.0,830.8 3478.3,964.6 3771.7,964.6 3793.1,873.7 3827.5,727.1 3850.3,873.7 3864.7,964.6 3964.8,964.6 3975.5,830.8 4000.6,787.9 4025.6,744.9" fill="none" stroke="#a58cf8" stroke-width="5.2" stroke-linejoin="round" stroke-linecap="round" /><polyline points="2974.0,809.3 2976.1,964.6 2979.0,644.8 2988.3,644.8 2995.4,659.1 3002.6,730.6 3006.2,964.6 3013.3,902.3 3018.3,625.5 3024.0,964.6 3033.3,952.4 3039.8,632.6 3045.5,964.6 3056.2,702.0 3061.3,644.8 3067.0,964.6 3077.7,916.6 3097.0,666.2 3106.3,964.6 3117.1,759.2 3127.8,673.4 3139.9,619.7 3152.8,655.5 3157.8,964.6 3177.9,964.6 3190.7,651.9 3197.9,719.9 3206.5,659.1 3213.6,659.1 3220.8,669.8 3227.9,964.6 3253.0,964.6 3270.9,648.4 3278.0,655.5 3292.3,685.6 3299.5,964.6 3320.9,964.6 3328.1,625.5 3336.7,659.1 3349.6,644.8 3360.3,702.0 3366.0,666.2 3374.6,964.6 3388.9,964.6 3399.6,659.1 3410.4,637.6 3417.5,634.0 3424.7,673.4 3431.8,677.0 3439.0,964.6 3446.1,662.7 3453.3,964.6 3460.4,662.7 3467.6,651.9 3473.3,625.5 3481.9,659.1 3487.6,632.6 3496.2,637.6 3503.4,651.9 3510.5,964.6 3521.3,666.2 3524.8,659.1 3532.0,661.2 3539.1,641.2 3546.3,687.7 3553.5,964.6 3564.2,964.6 3569.2,634.0 3576.3,611.2 3582.1,964.6 3589.2,651.9 3610.7,673.4 3617.8,964.6 3627.1,651.9 3632.1,964.6 3640.7,664.1 3660.8,664.1 3669.3,639.8 3676.5,964.6 3684.4,677.0 3693.0,964.6 3710.8,964.6 3714.4,644.8 3721.6,634.0 3728.7,677.0 3734.5,637.6 3743.0,651.9 3748.0,639.8 3755.2,964.6 3764.5,673.4 3771.7,634.0 3778.8,666.2 3786.0,680.6 3800.3,617.6 3807.4,964.6 3836.0,964.6 3848.2,639.8 3857.5,637.6 3864.7,964.6 3875.4,964.6 3880.4,666.2 3894.7,628.3 3904.0,666.2 3909.0,964.6 3916.2,634.0 3929.0,651.9 3943.4,661.2 3951.9,619.7 3961.2,644.8 3969.8,646.9 3977.0,687.7 3987.7,641.2 3995.6,584.0 4004.2,964.6 4014.9,959.6 4023.5,644.8" fill="none" stroke="#5a94e0" stroke-width="5.2" stroke-linejoin="round" stroke-linecap="round" /><polyline points="3127.8,964.6 3133.5,734.2 3138.5,964.6 3288.8,964.6 3293.8,685.6 3299.5,964.6 3528.4,964.6 3532.0,723.5 3567.8,727.1 3607.1,902.3 3621.4,964.6 3678.6,964.6 3685.8,719.9 3696.5,716.3 3710.8,730.6 3718.0,964.6 3725.2,730.6 3730.2,964.6 3746.6,964.6 3750.2,716.3 3755.9,964.6 3760.9,723.5 3765.9,964.6" fill="none" stroke="#e6bd3c" stroke-width="5.2" stroke-linejoin="round" stroke-linecap="round" /><polyline points="2981.1,964.6 2994.0,895.2 3004.7,830.8 3016.9,930.9 3045.5,964.6 3131.4,959.6 3142.1,719.9 3149.2,964.6 3177.9,830.8 3192.2,727.1 3199.3,964.6 3220.8,830.8 3265.1,702.0 3274.4,730.6 3292.3,959.6 3303.1,964.6 3349.6,702.0 3360.3,719.9 3379.6,700.6 3388.9,964.6 3435.4,964.6 3446.1,698.4 3456.9,964.6 3496.2,964.6 3507.0,716.3 3515.5,964.6 3571.3,830.8 3614.3,734.2 3625.0,964.6 3671.5,964.6 3721.6,719.9 3735.9,702.0 3746.6,964.6 3778.8,945.3 3789.5,938.1 3796.7,964.6 3814.6,964.6 3821.7,698.4 3832.5,759.2 3846.8,964.6 3864.7,888.0 3893.3,694.9 3954.1,694.9" fill="none" stroke="#5a48c0" stroke-width="5.2" stroke-linejoin="round" stroke-linecap="round" /><polyline points="2977.5,964.6 2995.4,704.2 3041.9,702.0 3099.2,714.2 3112.0,677.0 3124.2,759.2 3134.9,964.6" fill="none" stroke="#5a48c0" stroke-width="5.2" stroke-linejoin="round" stroke-linecap="round" /><polyline points="3045.5,964.6 3156.4,855.8 3220.8,843.7 3263.7,839.4 3287.3,841.5 3292.3,964.6 3303.1,945.3 3349.6,852.2 3417.5,850.1 3428.3,855.8 3435.4,848.7 3442.6,964.6 3456.9,830.8 3467.6,716.3 3478.3,964.6 3489.1,859.4 3524.8,846.5 3600.0,846.5 3642.9,855.8 3653.6,964.6 3671.5,902.3 3728.7,784.3 3778.8,785.7 3839.6,791.4 3921.9,823.6 3993.4,850.8" fill="none" stroke="#5a48c0" stroke-width="5.2" stroke-linejoin="round" stroke-linecap="round" /><polyline points="3031.2,792.9 3109.9,798.6 3206.5,854.4 3245.8,964.6 3285.2,852.2 3460.4,916.6 3685.8,855.8 3836.0,823.6 3901.9,803.6 3914.7,850.8 3950.5,855.8 4007.7,852.2 4025.6,848.7" fill="none" stroke="#e6bd3c" stroke-width="5.2" stroke-linejoin="round" stroke-linecap="round" /></g><line x1="2891.7" x2="4025.6" y1="964.6" y2="964.6" stroke="#5d6072" stroke-width="3"/><line x1="3155.7" x2="3155.7" y1="964.6" y2="980.1" stroke="#5d6072" stroke-width="2.6"/><line x1="3503.4" x2="3503.4" y1="964.6" y2="980.1" stroke="#5d6072" stroke-width="2.6"/><line x1="3851.0" x2="3851.0" y1="964.6" y2="980.1" stroke="#5d6072" stroke-width="2.6"/></svg>
<span class="t" style="left:2773.8px;top:380.8px;font-size:48.4px;letter-spacing:0.18px;color:#272e36;">Pc95 Time to First Byte by Country/Region</span>
<span class="t" style="left:2865.4px;top:498.4px;font-size:30.7px;color:#272e36;letter-spacing:0.6px;">1</span>
<span class="t" style="left:2839.8px;top:588.5px;font-size:30.7px;color:#272e36;letter-spacing:0.6px;">0.8</span>
<span class="t" style="left:2839.8px;top:678.7px;font-size:30.7px;color:#272e36;letter-spacing:0.6px;">0.6</span>
<span class="t" style="left:2839.3px;top:768.8px;font-size:30.7px;color:#272e36;letter-spacing:0.6px;">0.4</span>
<span class="t" style="left:2840.1px;top:859.0px;font-size:30.7px;color:#272e36;letter-spacing:0.6px;">0.2</span>
<span class="t" style="left:2865.2px;top:949.1px;font-size:30.7px;color:#272e36;letter-spacing:0.6px;">0</span>
<span class="t" style="left:3105.4px;top:986.0px;font-size:31.4px;letter-spacing:0.64px;color:#272e36;">Thu 19</span>
<span class="t" style="left:3458.9px;top:986.0px;font-size:31.4px;letter-spacing:-0.41px;color:#272e36;">Sat 21</span>
<span class="t" style="left:3795.0px;top:986.0px;font-size:31.4px;letter-spacing:1.14px;color:#272e36;">Mon 23</span>
<div class="btn" style="left:3872.5px;top:1054px;width:83px;height:60px;border-color:#c9cad8;border-radius:10px"></div>
<svg class="a" style="left:0;top:1060px" width="4075" height="60"><rect x="2861.0" y="13.5" width="30.8" height="30.8" rx="5.5" fill="#fff" stroke="#5e93dd" stroke-width="3"/><rect x="3179.4" y="13.5" width="30.8" height="30.8" rx="5.5" fill="#fff" stroke="#5a48c0" stroke-width="3"/><rect x="3432.0" y="13.5" width="30.8" height="30.8" rx="5.5" fill="#fff" stroke="#e6bd3c" stroke-width="3"/></svg>
<span class="t" style="left:2910.5px;top:1070.5px;font-size:34.5px;letter-spacing:0.80px;color:#272e36;">United States</span>
<span class="t" style="left:3230.2px;top:1070.5px;font-size:34.5px;letter-spacing:1.25px;color:#272e36;">Germany</span>
<span class="t" style="left:3481.5px;top:1070.5px;font-size:34.5px;letter-spacing:1.56px;color:#272e36;">United Kingdom</span>
<span class="t" style="left:3897.0px;top:1067.8px;font-size:31.0px;letter-spacing:-1.36px;color:#272e36;">+7</span>
<div class="w" style="left:50.0px;top:3128px;width:1296px;height:1056px"><div class="hl" style="top:94.6px"></div>
<div class="a" style="left:162.4px;top:106.9px;width:874px;height:80px;background:#f3f7fe"><div style="width:418.3px;height:80px;background:#c8dafa"></div></div>
<div class="a" style="left:162.4px;top:191.5px;width:874px;height:80px;background:#f3f7fe"><div style="width:175.5px;height:80px;background:#c8dafa"></div></div>
<div class="a" style="left:162.4px;top:276.1px;width:874px;height:80px;background:#f3f7fe"><div style="width:152.0px;height:80px;background:#c8dafa"></div></div>
<div class="a" style="left:162.4px;top:360.8px;width:874px;height:80px;background:#f3f7fe"><div style="width:48.4px;height:80px;background:#c8dafa"></div></div>
<div class="a" style="left:162.4px;top:445.4px;width:874px;height:80px;background:#f3f7fe"><div style="width:18.8px;height:80px;background:#c8dafa"></div></div>
<div class="a" style="left:162.4px;top:530.0px;width:874px;height:80px;background:#f3f7fe"><div style="width:17.3px;height:80px;background:#c8dafa"></div></div>
<div class="a" style="left:162.4px;top:614.6px;width:874px;height:80px;background:#f3f7fe"><div style="width:16.8px;height:80px;background:#c8dafa"></div></div>
<div class="a" style="left:162.4px;top:699.2px;width:874px;height:80px;background:#f3f7fe"><div style="width:16.3px;height:80px;background:#c8dafa"></div></div>
<div class="a" style="left:162.4px;top:783.9px;width:874px;height:80px;background:#f3f7fe"><div style="width:15.1px;height:80px;background:#c8dafa"></div></div>
<div class="a" style="left:162.4px;top:868.5px;width:874px;height:80px;background:#f3f7fe"><div style="width:15.1px;height:80px;background:#c8dafa"></div></div>
<div class="a" style="left:162.4px;top:953.1px;width:874px;height:80px;background:#f4f4f8"><div style="width:51.0px;height:80px;background:#c6c7de"></div></div>
</div>
<span class="t" style="left:86.6px;top:3260.7px;font-size:39.8px;letter-spacing:0.38px;color:#272e36;">4 745</span>
<span class="t" style="left:238.1px;top:3260.7px;font-size:39.8px;letter-spacing:1.97px;color:#14181c;">Other</span>
<span class="t" style="left:1143.5px;top:3260.7px;font-size:39.8px;letter-spacing:-0.16px;font-weight:700;color:#272e36;">48.1%</span>
<span class="t" style="left:84.4px;top:3345.3px;font-size:39.8px;letter-spacing:0.95px;color:#272e36;">1 935</span>
<span class="t" style="left:237.8px;top:3345.3px;font-size:39.8px;letter-spacing:1.57px;color:#14181c;">Chrome</span>
<span class="t" style="left:1141.5px;top:3345.3px;font-size:39.8px;letter-spacing:0.34px;font-weight:700;color:#272e36;">19.6%</span>
<span class="t" style="left:84.4px;top:3429.9px;font-size:39.8px;letter-spacing:0.95px;color:#272e36;">1 663</span>
<span class="t" style="left:238.3px;top:3429.9px;font-size:39.8px;letter-spacing:2.32px;color:#14181c;">curl</span>
<span class="t" style="left:1141.5px;top:3429.9px;font-size:39.8px;letter-spacing:0.34px;font-weight:700;color:#272e36;">16.9%</span>
<span class="t" style="left:121.1px;top:3514.6px;font-size:39.8px;letter-spacing:0.12px;color:#272e36;">463</span>
<span class="t" style="left:236.6px;top:3514.6px;font-size:39.8px;letter-spacing:1.12px;color:#14181c;">Firefox</span>
<span class="t" style="left:1165.8px;top:3514.6px;font-size:39.8px;letter-spacing:-0.27px;font-weight:700;color:#272e36;">4.7%</span>
<span class="t" style="left:118.8px;top:3599.2px;font-size:39.8px;letter-spacing:1.24px;color:#272e36;">120</span>
<span class="t" style="left:236.6px;top:3599.2px;font-size:39.8px;letter-spacing:0.61px;color:#14181c;">Mobile Safari UI/WKWebView</span>
<span class="t" style="left:1163.8px;top:3599.2px;font-size:39.8px;letter-spacing:0.39px;font-weight:700;color:#272e36;">1.2%</span>
<span class="t" style="left:118.8px;top:3683.8px;font-size:39.8px;letter-spacing:1.24px;color:#272e36;">103</span>
<span class="t" style="left:238.3px;top:3683.8px;font-size:39.8px;letter-spacing:2.36px;color:#14181c;">com/bot</span>
<span class="t" style="left:1197.3px;top:3683.8px;font-size:39.8px;letter-spacing:0.86px;font-weight:700;color:#272e36;">1%</span>
<span class="t" style="left:142.4px;top:3768.4px;font-size:39.8px;letter-spacing:1.03px;color:#272e36;">98</span>
<span class="t" style="left:236.6px;top:3768.4px;font-size:39.8px;letter-spacing:0.96px;color:#14181c;">PetalBot</span>
<span class="t" style="left:1197.3px;top:3768.4px;font-size:39.8px;letter-spacing:0.86px;font-weight:700;color:#272e36;">1%</span>
<span class="t" style="left:142.4px;top:3853.0px;font-size:39.8px;letter-spacing:1.28px;color:#272e36;">92</span>
<span class="t" style="left:238.1px;top:3853.0px;font-size:39.8px;letter-spacing:0.71px;color:#14181c;">Safari</span>
<span class="t" style="left:1164.8px;top:3853.0px;font-size:39.8px;letter-spacing:0.06px;font-weight:700;color:#272e36;">0.9%</span>
<span class="t" style="left:142.1px;top:3937.7px;font-size:39.8px;letter-spacing:1.28px;color:#272e36;">78</span>
<span class="t" style="left:238.1px;top:3937.7px;font-size:39.8px;letter-spacing:0.99px;color:#14181c;">Opera</span>
<span class="t" style="left:1164.8px;top:3937.7px;font-size:39.8px;letter-spacing:0.06px;font-weight:700;color:#272e36;">0.8%</span>
<span class="t" style="left:142.1px;top:4022.3px;font-size:39.8px;letter-spacing:1.28px;color:#272e36;">78</span>
<span class="t" style="left:238.3px;top:4022.3px;font-size:39.8px;letter-spacing:1.33px;color:#14181c;">crawler</span>
<span class="t" style="left:1164.8px;top:4022.3px;font-size:39.8px;letter-spacing:0.06px;font-weight:700;color:#272e36;">0.8%</span>
<span class="t" style="left:121.1px;top:4106.9px;font-size:39.8px;letter-spacing:-0.13px;color:#272e36;">494</span>
<span class="t" style="left:238.1px;top:4106.9px;font-size:39.8px;letter-spacing:1.17px;color:#14181c;">Other Browsers</span>
<span class="t" style="left:1198.5px;top:4106.9px;font-size:39.8px;letter-spacing:-0.39px;font-weight:700;color:#272e36;">5%</span>
<span class="t" style="left:76.8px;top:3155.6px;font-size:48.4px;letter-spacing:-0.07px;color:#272e36;">Top User Agent</span>
<div class="a" style="left:1302.5px;top:3704px;width:0;height:0"><span class="t" style="left:-160px;top:-16px;width:320px;text-align:center;font-size:32px;letter-spacing:1.2px;color:#a4a7ab;transform:rotate(-90deg);transform-origin:50% 50%">% of total (9 869)</span></div>
<div class="w" style="left:1397.5px;top:3128px;width:1296px;height:1056px"><div class="hl" style="top:94.6px"></div>
<div class="a" style="left:162.4px;top:106.9px;width:874px;height:80px;background:#f3f7fe"><div style="width:196.2px;height:80px;background:#c8dafa"></div></div>
<div class="a" style="left:162.4px;top:191.5px;width:874px;height:80px;background:#f3f7fe"><div style="width:172.1px;height:80px;background:#c8dafa"></div></div>
<div class="a" style="left:162.4px;top:276.1px;width:874px;height:80px;background:#f3f7fe"><div style="width:101.0px;height:80px;background:#c8dafa"></div></div>
<div class="a" style="left:162.4px;top:360.8px;width:874px;height:80px;background:#f3f7fe"><div style="width:50.7px;height:80px;background:#c8dafa"></div></div>
<div class="a" style="left:162.4px;top:445.4px;width:874px;height:80px;background:#f3f7fe"><div style="width:49.9px;height:80px;background:#c8dafa"></div></div>
<div class="a" style="left:162.4px;top:530.0px;width:874px;height:80px;background:#f3f7fe"><div style="width:43.1px;height:80px;background:#c8dafa"></div></div>
<div class="a" style="left:162.4px;top:614.6px;width:874px;height:80px;background:#f3f7fe"><div style="width:41.4px;height:80px;background:#c8dafa"></div></div>
<div class="a" style="left:162.4px;top:699.2px;width:874px;height:80px;background:#f3f7fe"><div style="width:39.1px;height:80px;background:#c8dafa"></div></div>
<div class="a" style="left:162.4px;top:783.9px;width:874px;height:80px;background:#f3f7fe"><div style="width:38.0px;height:80px;background:#c8dafa"></div></div>
<div class="a" style="left:162.4px;top:868.5px;width:874px;height:80px;background:#f3f7fe"><div style="width:35.7px;height:80px;background:#c8dafa"></div></div>
<div class="a" style="left:162.4px;top:953.1px;width:874px;height:80px;background:#f4f4f8"><div style="width:177.8px;height:80px;background:#c6c7de"></div></div>
</div>
<span class="t" style="left:1432.9px;top:3260.7px;font-size:39.8px;letter-spacing:0.76px;color:#272e36;">2 171</span>
<span class="t" style="left:1584.0px;top:3260.7px;font-size:39.8px;letter-spacing:0.53px;color:#14181c;">France</span>
<span class="t" style="left:2523.7px;top:3260.7px;font-size:39.8px;letter-spacing:-0.09px;font-weight:700;color:#272e36;">22%</span>
<span class="t" style="left:1431.9px;top:3345.3px;font-size:39.8px;letter-spacing:1.01px;color:#272e36;">1 892</span>
<span class="t" style="left:1585.5px;top:3345.3px;font-size:39.8px;letter-spacing:1.05px;color:#14181c;">Singapore</span>
<span class="t" style="left:2489.0px;top:3345.3px;font-size:39.8px;letter-spacing:0.34px;font-weight:700;color:#272e36;">19.2%</span>
<span class="t" style="left:1431.9px;top:3429.9px;font-size:39.8px;letter-spacing:0.95px;color:#272e36;">1 070</span>
<span class="t" style="left:1586.8px;top:3429.9px;font-size:39.8px;letter-spacing:-1.11px;color:#14181c;">Japan</span>
<span class="t" style="left:2489.0px;top:3429.9px;font-size:39.8px;letter-spacing:0.34px;font-weight:700;color:#272e36;">10.9%</span>
<span class="t" style="left:1468.6px;top:3514.6px;font-size:39.8px;letter-spacing:0.24px;color:#272e36;">489</span>
<span class="t" style="left:1584.3px;top:3514.6px;font-size:39.8px;letter-spacing:0.87px;color:#14181c;">United States</span>
<span class="t" style="left:2546.0px;top:3514.6px;font-size:39.8px;letter-spacing:-0.39px;font-weight:700;color:#272e36;">5%</span>
<span class="t" style="left:1468.6px;top:3599.2px;font-size:39.8px;letter-spacing:0.12px;color:#272e36;">480</span>
<span class="t" style="left:1585.3px;top:3599.2px;font-size:39.8px;letter-spacing:1.07px;color:#14181c;">Germany</span>
<span class="t" style="left:2513.3px;top:3599.2px;font-size:39.8px;letter-spacing:-0.27px;font-weight:700;color:#272e36;">4.9%</span>
<span class="t" style="left:1468.6px;top:3683.8px;font-size:39.8px;letter-spacing:0.24px;color:#272e36;">401</span>
<span class="t" style="left:1584.0px;top:3683.8px;font-size:39.8px;letter-spacing:1.60px;color:#14181c;">Hong Kong</span>
<span class="t" style="left:2513.3px;top:3683.8px;font-size:39.8px;letter-spacing:-0.27px;font-weight:700;color:#272e36;">4.1%</span>
<span class="t" style="left:1467.8px;top:3768.4px;font-size:39.8px;letter-spacing:0.62px;color:#272e36;">381</span>
<span class="t" style="left:1587.3px;top:3768.4px;font-size:39.8px;letter-spacing:0.73px;color:#14181c;">Australia</span>
<span class="t" style="left:2513.1px;top:3768.4px;font-size:39.8px;letter-spacing:-0.19px;font-weight:700;color:#272e36;">3.9%</span>
<span class="t" style="left:1467.8px;top:3853.0px;font-size:39.8px;letter-spacing:0.49px;color:#272e36;">355</span>
<span class="t" style="left:1585.5px;top:3853.0px;font-size:39.8px;letter-spacing:0.53px;color:#14181c;">South Korea</span>
<span class="t" style="left:2513.1px;top:3853.0px;font-size:39.8px;letter-spacing:-0.19px;font-weight:700;color:#272e36;">3.6%</span>
<span class="t" style="left:1467.8px;top:3937.7px;font-size:39.8px;letter-spacing:0.62px;color:#272e36;">342</span>
<span class="t" style="left:1585.3px;top:3937.7px;font-size:39.8px;letter-spacing:0.27px;color:#14181c;">China</span>
<span class="t" style="left:2513.1px;top:3937.7px;font-size:39.8px;letter-spacing:-0.19px;font-weight:700;color:#272e36;">3.5%</span>
<span class="t" style="left:1467.8px;top:4022.3px;font-size:39.8px;letter-spacing:0.49px;color:#272e36;">316</span>
<span class="t" style="left:1584.3px;top:4022.3px;font-size:39.8px;letter-spacing:1.71px;color:#14181c;">United Kingdom</span>
<span class="t" style="left:2513.1px;top:4022.3px;font-size:39.8px;letter-spacing:-0.19px;font-weight:700;color:#272e36;">3.2%</span>
<span class="t" style="left:1431.9px;top:4106.9px;font-size:39.8px;letter-spacing:0.95px;color:#272e36;">1 958</span>
<span class="t" style="left:1585.5px;top:4106.9px;font-size:39.8px;letter-spacing:1.15px;color:#14181c;">Other @network.client.geoip.country.names</span>
<span class="t" style="left:2489.0px;top:4106.9px;font-size:39.8px;letter-spacing:0.34px;font-weight:700;color:#272e36;">19.9%</span>
<span class="t" style="left:1424.3px;top:3155.6px;font-size:48.4px;letter-spacing:0.35px;color:#272e36;">Top Country/Region</span>
<div class="a" style="left:2650.0px;top:3704px;width:0;height:0"><span class="t" style="left:-160px;top:-16px;width:320px;text-align:center;font-size:32px;letter-spacing:1.2px;color:#a4a7ab;transform:rotate(-90deg);transform-origin:50% 50%">% of total (9 855)</span></div>
<div class="w" style="left:2747px;top:3128px;width:1296px;height:1056px"><div class="hl" style="top:94.6px"></div>
<div class="a" style="left:0;top:101.0px;width:1290px;height:839.0px;overflow:hidden">
<div class="a" style="left:153.0px;top:5.7px;width:1085.0px;height:55.4px;background:#a3c7fb"></div>
<div class="a" style="left:153.0px;top:65.0px;width:496.2px;height:55.4px;background:#a3c7fb"></div>
<div class="a" style="left:153.0px;top:124.4px;width:470.6px;height:55.4px;background:#a3c7fb"></div>
<div class="a" style="left:153.0px;top:183.8px;width:470.6px;height:55.4px;background:#a3c7fb"></div>
<div class="a" style="left:153.0px;top:243.1px;width:445.0px;height:55.4px;background:#a3c7fb"></div>
<div class="a" style="left:153.0px;top:302.4px;width:445.0px;height:55.4px;background:#a3c7fb"></div>
<div class="a" style="left:153.0px;top:361.8px;width:393.8px;height:55.4px;background:#a3c7fb"></div>
<div class="a" style="left:153.0px;top:421.1px;width:368.2px;height:55.4px;background:#a3c7fb"></div>
<div class="a" style="left:153.0px;top:480.5px;width:368.2px;height:55.4px;background:#a3c7fb"></div>
<div class="a" style="left:153.0px;top:539.8px;width:342.6px;height:55.4px;background:#a3c7fb"></div>
<div class="a" style="left:153.0px;top:599.2px;width:342.6px;height:55.4px;background:#a3c7fb"></div>
<div class="a" style="left:153.0px;top:658.5px;width:342.6px;height:55.4px;background:#a3c7fb"></div>
<div class="a" style="left:153.0px;top:717.9px;width:342.6px;height:55.4px;background:#a3c7fb"></div>
<div class="a" style="left:153.0px;top:777.2px;width:317.0px;height:55.4px;background:#a3c7fb"></div>
<div class="a" style="left:153.0px;top:836.6px;width:291.4px;height:55.4px;background:#a3c7fb"></div>
</div></div>
<span class="t" style="left:2836.8px;top:3246.6px;font-size:37.6px;letter-spacing:1.54px;font-weight:700;color:#272e36;">42</span>
<span class="t" style="left:2927.8px;top:3248.4px;font-size:37.6px;letter-spacing:1.16px;color:#14181c;">/wp-content/plugins/hellopress/wp_filemanager.php</span>
<span class="t" style="left:2835.0px;top:3305.9px;font-size:37.6px;letter-spacing:3.29px;font-weight:700;color:#272e36;">19</span>
<span class="t" style="left:2927.8px;top:3307.7px;font-size:37.6px;letter-spacing:1.18px;color:#14181c;">/ioxi-o.php</span>
<span class="t" style="left:2835.0px;top:3365.3px;font-size:37.6px;letter-spacing:3.04px;font-weight:700;color:#272e36;">18</span>
<span class="t" style="left:2927.8px;top:3367.1px;font-size:37.6px;letter-spacing:1.67px;color:#14181c;">/info.php</span>
<span class="t" style="left:2835.0px;top:3424.6px;font-size:37.6px;letter-spacing:3.04px;font-weight:700;color:#272e36;">18</span>
<span class="t" style="left:2927.8px;top:3426.4px;font-size:37.6px;letter-spacing:1.40px;color:#14181c;">/file.php</span>
<span class="t" style="left:2835.0px;top:3484.0px;font-size:37.6px;letter-spacing:3.54px;font-weight:700;color:#272e36;">17</span>
<span class="t" style="left:2927.8px;top:3485.8px;font-size:37.6px;letter-spacing:1.67px;color:#14181c;">/.git/config</span>
<span class="t" style="left:2835.0px;top:3543.3px;font-size:37.6px;letter-spacing:3.54px;font-weight:700;color:#272e36;">17</span>
<span class="t" style="left:2927.8px;top:3545.1px;font-size:37.6px;letter-spacing:1.59px;color:#14181c;">/admin.php</span>
<span class="t" style="left:2835.0px;top:3602.7px;font-size:37.6px;letter-spacing:2.79px;font-weight:700;color:#272e36;">15</span>
<span class="t" style="left:2927.8px;top:3604.5px;font-size:37.6px;letter-spacing:0.40px;color:#14181c;">/.env</span>
<span class="t" style="left:2835.0px;top:3662.0px;font-size:37.6px;letter-spacing:2.04px;font-weight:700;color:#272e36;">14</span>
<span class="t" style="left:2927.8px;top:3663.8px;font-size:37.6px;letter-spacing:1.59px;color:#14181c;">/about.php</span>
<span class="t" style="left:2835.0px;top:3721.4px;font-size:37.6px;letter-spacing:2.04px;font-weight:700;color:#272e36;">14</span>
<span class="t" style="left:2927.8px;top:3723.2px;font-size:37.6px;letter-spacing:1.48px;color:#14181c;">/wp-content/admin.php</span>
<span class="t" style="left:2835.0px;top:3780.7px;font-size:37.6px;letter-spacing:3.29px;font-weight:700;color:#272e36;">13</span>
<span class="t" style="left:2927.8px;top:3782.5px;font-size:37.6px;letter-spacing:0.66px;color:#14181c;">/autoload_classmap.php</span>
<span class="t" style="left:2835.0px;top:3840.1px;font-size:37.6px;letter-spacing:3.29px;font-weight:700;color:#272e36;">13</span>
<span class="t" style="left:2927.8px;top:3841.9px;font-size:37.6px;letter-spacing:1.38px;color:#14181c;">/wp-content/plugins/index.php</span>
<span class="t" style="left:2835.0px;top:3899.4px;font-size:37.6px;letter-spacing:3.29px;font-weight:700;color:#272e36;">13</span>
<span class="t" style="left:2927.8px;top:3901.2px;font-size:37.6px;letter-spacing:1.04px;color:#14181c;">/222.php</span>
<span class="t" style="left:2835.0px;top:3958.8px;font-size:37.6px;letter-spacing:3.29px;font-weight:700;color:#272e36;">13</span>
<span class="t" style="left:2927.8px;top:3960.6px;font-size:37.6px;letter-spacing:1.19px;color:#14181c;">/classwithtostring.php</span>
<span class="t" style="left:2835.0px;top:4018.1px;font-size:37.6px;letter-spacing:3.29px;font-weight:700;color:#272e36;">12</span>
<span class="t" style="left:2927.8px;top:4019.9px;font-size:37.6px;letter-spacing:0.94px;color:#14181c;">/chosen.php</span>
<span class="t" style="left:2775.5px;top:3155.6px;font-size:48.4px;letter-spacing:-0.66px;color:#272e36;">Top 4xx Resources</span>
<svg class="a" style="left:0;top:4110px" width="4075" height="50"><rect x="2871.0" y="10.5" width="29.2" height="29.2" rx="5.5" fill="#fff" stroke="#8ab4f0" stroke-width="3"/></svg>
<span class="t" style="left:2920.2px;top:4117.6px;font-size:34.5px;letter-spacing:1.66px;color:#272e36;">403</span>
<div class="w" style="left:50px;top:1184px;width:3993px;height:1891px"><div class="hl" style="top:93.6px"></div></div>
<svg class="a" style="left:53px;top:1284px;border-radius:0 0 11px 11px" width="3987" height="1788" viewBox="53 1284 3987 1788"><defs><linearGradient id="dk" x1="0" y1="0" x2="1" y2="1"><stop offset="0" stop-color="#666770"/><stop offset="1" stop-color="#585962"/></linearGradient></defs><rect x="53" y="1284" width="3987" height="1788" fill="#cdcdcd"/><path d="M-17 1285L11 1299L33 1302L55 1312L77 1316L99 1322L122 1329L155 1342L177 1345L194 1360L205 1364L216 1348L233 1342L244 1345L266 1332L282 1329L299 1309L310 1322L327 1345L338 1326L349 1348L371 1335L388 1348L421 1364L443 1391L455 1382L477 1400L499 1394L516 1405L521 1423L532 1397L549 1385L577 1397L599 1397L621 1397L632 1373L649 1382L660 1411L657 1376L671 1351L654 1312L649 1285L665 1261L682 1271L693 1312L701 1338L715 1360L732 1354L743 1382L743 1411L754 1408L765 1391L771 1345L776 1335L804 1338L815 1360L817 1376L806 1391L817 1405L810 1425L799 1439L776 1439L763 1434L760 1456L751 1464L740 1493L721 1500L713 1513L699 1530L688 1551L677 1575L669 1595L668 1617L674 1623L688 1623L693 1655L710 1655L732 1663L749 1679L776 1693L806 1696L807 1736L815 1751L826 1767L837 1763L845 1745L843 1718L837 1704L860 1689L870 1669L871 1648L849 1621L860 1595L854 1572L856 1540L882 1544L901 1540L921 1559L926 1570L943 1572L948 1595L948 1617L960 1634L982 1621L995 1597L1004 1586L1015 1617L1026 1638L1037 1663L1048 1683L1059 1698L1076 1704L1084 1718L1098 1736L1102 1749L1093 1760L1071 1769L1054 1785L1021 1785L982 1786L971 1802L954 1815L937 1837L930 1843L943 1840L960 1819L982 1805L1004 1805L1007 1810L998 1824L984 1824L998 1835L1001 1848L1010 1856L1021 1859L1037 1861L1051 1840L1056 1856L1043 1867L1015 1878L993 1895L985 1891L987 1880L1004 1867L1002 1861L991 1869L976 1872L974 1878L960 1883L943 1892L935 1903L934 1910L936 1918L943 1922L932 1925L921 1928L902 1934L899 1939L899 1947L893 1957L887 1963L882 1955L886 1969L882 1979L876 1990L873 1969L871 1987L876 1991L879 2004L882 2015L871 2021L856 2031L843 2040L832 2049L821 2060L816 2074L817 2086L825 2102L831 2121L831 2136L827 2143L820 2145L812 2133L802 2114L802 2102L793 2090L788 2083L773 2087L760 2078L743 2079L726 2081L730 2093L715 2093L699 2088L679 2087L668 2092L654 2102L641 2114L639 2127L641 2135L635 2152L634 2176L640 2194L649 2208L654 2216L665 2222L673 2227L688 2225L701 2222L710 2215L715 2206L716 2194L732 2190L749 2188L756 2192L750 2203L748 2218L743 2223L740 2235L735 2247L738 2255L749 2255L765 2254L782 2255L794 2262L796 2265L793 2281L792 2295L791 2310L799 2321L807 2330L817 2334L832 2329L837 2325L849 2328L861 2337L865 2338L867 2343L876 2329L882 2315L890 2309L904 2306L918 2299L928 2294L926 2310L925 2315L931 2324L932 2312L941 2305L943 2296L948 2304L962 2314L982 2314L998 2320L1010 2314L1032 2313L1034 2321L1045 2328L1054 2338L1065 2346L1082 2362L1098 2367L1120 2368L1137 2377L1148 2385L1154 2399L1165 2413L1165 2427L1159 2432L1176 2435L1184 2440L1198 2440L1220 2449L1228 2461L1243 2459L1259 2465L1276 2465L1293 2474L1307 2486L1326 2489L1331 2499L1334 2513L1333 2524L1326 2538L1315 2551L1307 2561L1298 2575L1293 2578L1287 2595L1287 2612L1285 2633L1278 2653L1273 2665L1265 2681L1254 2694L1239 2695L1224 2699L1206 2707L1189 2719L1182 2729L1180 2744L1179 2763L1167 2775L1156 2795L1143 2810L1127 2830L1115 2844L1096 2846L1078 2841L1072 2834L1074 2845L1085 2855L1091 2868L1081 2889L1065 2899L1037 2903L1029 2908L1028 2925L1015 2934L998 2932L998 2947L1013 2955L998 2965L993 2990L973 3003L971 3017L987 3028L990 3041L971 3067L956 3084L954 3102L961 3118L943 3129L910 3129L887 3111L882 3075L882 3050L881 3025L893 3009L904 2985L910 2955L901 2940L902 2918L906 2896L904 2878L912 2861L921 2841L926 2814L926 2782L928 2763L934 2744L937 2719L938 2695L941 2671L940 2639L926 2628L904 2616L885 2604L873 2587L863 2567L852 2544L843 2524L833 2508L821 2499L817 2483L829 2470L832 2460L821 2457L823 2444L832 2427L843 2418L849 2410L860 2404L862 2388L860 2371L862 2358L855 2352L851 2343L849 2334L837 2333L829 2340L832 2349L822 2351L813 2343L801 2340L792 2337L791 2330L779 2323L769 2321L768 2310L758 2298L749 2287L738 2285L721 2279L704 2276L693 2268L677 2253L665 2250L649 2256L632 2250L612 2243L593 2234L571 2226L554 2212L548 2201L551 2188L543 2172L532 2158L516 2142L504 2133L499 2121L488 2109L474 2096L466 2077L462 2066L449 2060L446 2060L447 2077L460 2096L469 2109L479 2127L488 2140L493 2152L504 2166L499 2171L488 2158L477 2149L474 2133L460 2124L449 2115L443 2110L452 2102L443 2090L432 2074L425 2060L419 2049L407 2033L393 2027L381 2023L377 2010L366 1993L360 1980L355 1972L346 1955L340 1941L342 1921L338 1906L344 1880L344 1853L336 1817L355 1819L360 1832L357 1807L352 1802L335 1790L316 1776L305 1763L299 1745L288 1727L274 1708L271 1689L260 1683L249 1659L238 1638L221 1627L205 1632L188 1617L168 1599L149 1595L122 1593L99 1577L77 1577L72 1595L55 1608L35 1612L38 1584L55 1568L38 1572L27 1590L16 1610L7 1627L-12 1648L-34 1667L-56 1685L-78 1695L-106 1704L-89 1693L-67 1679L-45 1659L-28 1638L-23 1621L-39 1621L-56 1623L-78 1623L-78 1599L-95 1599L-112 1577L-123 1554L-112 1530L-100 1520L-73 1513L-67 1487L-89 1487L-117 1487L-128 1474L-145 1458L-123 1439L-100 1434L-78 1442L-95 1420L-100 1391L-128 1379L-112 1364L-89 1345L-67 1319L-39 1302ZM3979 1285L4006 1299L4029 1302L4051 1312L4073 1316L4095 1322L4118 1329L4151 1342L4173 1345L4190 1360L4201 1364L4212 1348L4228 1342L4240 1345L4262 1332L4278 1329L4295 1309L4306 1322L4323 1345L4334 1326L4345 1348L4367 1335L4384 1348L4417 1364L4439 1391L4450 1382L4473 1400L4495 1394L4512 1405L4517 1423L4528 1397L4545 1385L4573 1397L4595 1397L4617 1397L4628 1373L4645 1382L4656 1411L4653 1376L4667 1351L4650 1312L4645 1285L4661 1261L4678 1271L4689 1312L4697 1338L4711 1360L4728 1354L4739 1382L4739 1411L4750 1408L4761 1391L4767 1345L4772 1335L4800 1338L4811 1360L4813 1376L4802 1391L4813 1405L4806 1425L4795 1439L4772 1439L4759 1434L4756 1456L4747 1464L4736 1493L4717 1500L4709 1513L4695 1530L4684 1551L4672 1575L4665 1595L4664 1617L4670 1623L4684 1623L4689 1655L4706 1655L4728 1663L4745 1679L4772 1693L4802 1696L4803 1736L4811 1751L4822 1767L4833 1763L4841 1745L4839 1718L4833 1704L4856 1689L4866 1669L4867 1648L4845 1621L4856 1595L4850 1572L4852 1540L4878 1544L4897 1540L4917 1559L4922 1570L4939 1572L4944 1595L4944 1617L4956 1634L4978 1621L4991 1597L5000 1586L5011 1617L5022 1638L5033 1663L5044 1683L5055 1698L5072 1704L5080 1718L5094 1736L5098 1749L5089 1760L5067 1769L5050 1785L5017 1785L4978 1786L4967 1802L4950 1815L4933 1837L4926 1843L4939 1840L4956 1819L4978 1805L5000 1805L5003 1810L4994 1824L4980 1824L4994 1835L4997 1848L5006 1856L5017 1859L5033 1861L5047 1840L5052 1856L5039 1867L5011 1878L4989 1895L4981 1891L4983 1880L5000 1867L4998 1861L4987 1869L4972 1872L4970 1878L4956 1883L4939 1892L4931 1903L4930 1910L4932 1918L4939 1922L4928 1925L4917 1928L4898 1934L4894 1939L4894 1947L4889 1957L4883 1963L4878 1955L4882 1969L4878 1979L4872 1990L4869 1969L4867 1987L4872 1991L4875 2004L4878 2015L4867 2021L4852 2031L4839 2040L4828 2049L4817 2060L4812 2074L4813 2086L4821 2102L4827 2121L4827 2136L4823 2143L4816 2145L4808 2133L4798 2114L4798 2102L4789 2090L4784 2083L4769 2087L4756 2078L4739 2079L4722 2081L4726 2093L4711 2093L4695 2088L4675 2087L4664 2092L4650 2102L4637 2114L4635 2127L4637 2135L4631 2152L4630 2176L4636 2194L4645 2208L4650 2216L4661 2222L4669 2227L4684 2225L4697 2222L4706 2215L4711 2206L4712 2194L4728 2190L4745 2188L4752 2192L4746 2203L4744 2218L4739 2223L4736 2235L4731 2247L4734 2255L4745 2255L4761 2254L4778 2255L4790 2262L4792 2265L4789 2281L4788 2295L4787 2310L4795 2321L4803 2330L4813 2334L4828 2329L4833 2325L4845 2328L4857 2337L4861 2338L4863 2343L4872 2329L4878 2315L4886 2309L4900 2306L4914 2299L4924 2294L4922 2310L4921 2315L4927 2324L4928 2312L4937 2305L4939 2296L4944 2304L4958 2314L4978 2314L4994 2320L5006 2314L5028 2313L5030 2321L5041 2328L5050 2338L5061 2346L5078 2362L5094 2367L5116 2368L5133 2377L5144 2385L5150 2399L5161 2413L5161 2427L5155 2432L5172 2435L5180 2440L5194 2440L5216 2449L5224 2461L5239 2459L5255 2465L5272 2465L5289 2474L5303 2486L5322 2489L5327 2499L5330 2513L5329 2524L5322 2538L5311 2551L5303 2561L5294 2575L5289 2578L5283 2595L5283 2612L5281 2633L5274 2653L5269 2665L5261 2681L5250 2694L5235 2695L5220 2699L5202 2707L5185 2719L5178 2729L5176 2744L5175 2763L5163 2775L5152 2795L5139 2810L5123 2830L5111 2844L5092 2846L5074 2841L5068 2834L5070 2845L5081 2855L5087 2868L5077 2889L5061 2899L5033 2903L5025 2908L5024 2925L5011 2934L4994 2932L4994 2947L5009 2955L4994 2965L4989 2990L4969 3003L4967 3017L4983 3028L4986 3041L4967 3067L4952 3084L4950 3102L4957 3118L4939 3129L4906 3129L4883 3111L4878 3075L4878 3050L4877 3025L4889 3009L4900 2985L4906 2955L4897 2940L4898 2918L4902 2896L4900 2878L4908 2861L4917 2841L4922 2814L4922 2782L4924 2763L4930 2744L4933 2719L4934 2695L4937 2671L4936 2639L4922 2628L4900 2616L4881 2604L4869 2587L4859 2567L4848 2544L4839 2524L4829 2508L4817 2499L4813 2483L4825 2470L4828 2460L4817 2457L4819 2444L4828 2427L4839 2418L4845 2410L4856 2404L4858 2388L4856 2371L4858 2358L4851 2352L4847 2343L4845 2334L4833 2333L4825 2340L4828 2349L4818 2351L4809 2343L4797 2340L4788 2337L4787 2330L4775 2323L4765 2321L4764 2310L4754 2298L4745 2287L4734 2285L4717 2279L4700 2276L4689 2268L4672 2253L4661 2250L4645 2256L4628 2250L4608 2243L4589 2234L4567 2226L4550 2212L4544 2201L4547 2188L4539 2172L4528 2158L4512 2142L4500 2133L4495 2121L4484 2109L4470 2096L4462 2077L4458 2066L4445 2060L4442 2060L4443 2077L4456 2096L4465 2109L4475 2127L4484 2140L4489 2152L4500 2166L4495 2171L4484 2158L4473 2149L4470 2133L4456 2124L4445 2115L4439 2110L4448 2102L4439 2090L4428 2074L4421 2060L4415 2049L4403 2033L4389 2027L4377 2023L4373 2010L4362 1993L4356 1980L4351 1972L4342 1955L4336 1941L4338 1921L4334 1906L4340 1880L4340 1853L4332 1817L4351 1819L4356 1832L4353 1807L4348 1802L4331 1790L4312 1776L4301 1763L4295 1745L4284 1727L4270 1708L4267 1689L4256 1683L4245 1659L4234 1638L4217 1627L4201 1632L4184 1617L4164 1599L4145 1595L4118 1593L4095 1577L4073 1577L4068 1595L4051 1608L4031 1612L4034 1584L4051 1568L4034 1572L4023 1590L4012 1610L4003 1627L3984 1648L3962 1667L3940 1685L3918 1695L3890 1704L3907 1693L3929 1679L3951 1659L3968 1638L3973 1621L3957 1621L3940 1623L3918 1623L3918 1599L3901 1599L3884 1577L3873 1554L3884 1530L3896 1520L3923 1513L3929 1487L3907 1487L3879 1487L3868 1474L3851 1458L3873 1439L3896 1434L3918 1442L3901 1420L3896 1391L3868 1379L3884 1364L3907 1345L3929 1319L3957 1302ZM411 1296L424 1288L448 1269L564 1269L580 1291L593 1309L597 1330L580 1341L572 1343L577 1351L564 1359L553 1362L543 1356L536 1348L530 1356L516 1364L495 1371L469 1375L458 1367L456 1356L437 1351L424 1341L421 1331L448 1329L479 1320L458 1309L427 1310L414 1304ZM619 1356L633 1339L643 1346L654 1356L659 1370L646 1376L630 1370ZM864 1394L870 1384L883 1386L885 1400L876 1411L866 1409ZM767 1263L775 1297L771 1322L788 1337L805 1335L826 1331L843 1314L860 1331L885 1343L906 1364L914 1394L910 1419L893 1440L902 1457L885 1470L864 1466L853 1479L868 1491L889 1487L906 1500L927 1516L948 1523L974 1542L984 1550L999 1533L991 1516L974 1508L957 1510L969 1525L991 1529L999 1516L993 1500L974 1479L961 1457L957 1440L974 1432L991 1453L1003 1470L1016 1470L1012 1449L1033 1424L1016 1407L999 1386L974 1364L961 1343L948 1327L931 1305L919 1284L910 1263ZM762 1462L771 1451L788 1479L805 1491L821 1500L826 1510L809 1508L792 1500L779 1516L769 1510L767 1495L754 1508L756 1483ZM790 1535L800 1527L809 1531L798 1544ZM830 1542L836 1540L838 1557L832 1559ZM1098 1242L1104 1278L1120 1302L1115 1319L1148 1332L1154 1354L1126 1373L1126 1420L1124 1448L1137 1474L1145 1500L1154 1525L1167 1549L1179 1572L1204 1581L1223 1597L1238 1597L1245 1572L1254 1537L1269 1513L1276 1474L1300 1456L1320 1450L1348 1425L1376 1391L1409 1379L1431 1370L1454 1345L1472 1326L1476 1312L1454 1309L1431 1316L1409 1312L1426 1296L1448 1289L1470 1282L1478 1242ZM1112 1342L1126 1351L1143 1342L1137 1322L1115 1319ZM1449 1461L1456 1445L1470 1435L1481 1458L1495 1456L1503 1446L1518 1444L1531 1445L1540 1434L1556 1442L1558 1461L1569 1474L1556 1493L1537 1505L1512 1515L1495 1511L1468 1504L1478 1491L1455 1478L1473 1469L1467 1461ZM2006 1292L2031 1296L2064 1319L2053 1335L2086 1348L2120 1354L2147 1382L2175 1400L2177 1425L2164 1442L2142 1445L2108 1431L2086 1428L2103 1453L2106 1487L2131 1503L2139 1490L2125 1474L2142 1480L2169 1487L2164 1461L2186 1437L2208 1445L2212 1420L2206 1379L2201 1371L2219 1376L2236 1397L2223 1411L2236 1425L2253 1403L2275 1391L2308 1382L2325 1385L2353 1373L2375 1364L2391 1338L2397 1332L2430 1351L2441 1360L2464 1367L2480 1382L2486 1364L2464 1345L2461 1312L2462 1296L2480 1242L2525 1242L2528 1296L2525 1360L2536 1391L2519 1439L2536 1425L2547 1397L2541 1367L2564 1354L2552 1312L2541 1285L2552 1242L2608 1242L2608 1285L2636 1312L2641 1285L2652 1242L3141 1242L3157 1285L3163 1299L3180 1302L3196 1278L3218 1275L3246 1282L3263 1278L3274 1242L3374 1242L3385 1275L3413 1299L3452 1292L3485 1306L3496 1338L3513 1348L3540 1338L3574 1342L3590 1329L3612 1338L3612 1360L3629 1335L3646 1332L3674 1335L3696 1348L3718 1364L3740 1382L3768 1405L3796 1420L3818 1434L3832 1445L3818 1458L3801 1474L3796 1493L3768 1480L3751 1461L3729 1453L3723 1442L3718 1474L3707 1480L3690 1482L3701 1500L3712 1525L3710 1537L3685 1537L3657 1554L3635 1572L3612 1595L3585 1586L3562 1595L3546 1597L3535 1599L3533 1625L3518 1640L3531 1648L3527 1663L3533 1677L3518 1698L3501 1708L3494 1732L3479 1749L3463 1772L3459 1774L3452 1763L3448 1736L3447 1698L3448 1669L3463 1642L3479 1627L3496 1606L3513 1584L3535 1561L3546 1535L3529 1559L3501 1551L3501 1579L3474 1554L3459 1561L3435 1602L3413 1617L3394 1606L3374 1604L3340 1610L3307 1610L3291 1627L3274 1644L3257 1663L3246 1679L3230 1698L3224 1704L3246 1708L3252 1721L3274 1718L3288 1731L3285 1749L3291 1772L3281 1790L3278 1815L3263 1840L3252 1864L3230 1888L3207 1903L3196 1906L3185 1900L3174 1909L3171 1913L3163 1925L3160 1936L3146 1947L3135 1955L3144 1966L3155 1987L3157 2004L3154 2015L3141 2020L3124 2025L3122 2010L3126 1993L3125 1981L3111 1979L3107 1969L3111 1955L3101 1947L3080 1955L3066 1963L3072 1947L3076 1939L3063 1934L3046 1950L3030 1959L3026 1969L3039 1981L3041 1987L3060 1979L3080 1986L3077 1991L3057 2002L3046 2015L3044 2024L3055 2033L3063 2051L3073 2061L3073 2072L3061 2079L3074 2086L3072 2102L3063 2111L3052 2125L3046 2140L3035 2151L3022 2162L3008 2171L2991 2176L2980 2181L2963 2186L2946 2190L2944 2201L2939 2200L2938 2188L2924 2186L2913 2190L2904 2200L2894 2215L2902 2232L2916 2248L2929 2262L2933 2281L2932 2298L2928 2306L2913 2315L2905 2318L2902 2327L2889 2336L2884 2323L2880 2316L2869 2314L2863 2306L2858 2298L2841 2290L2840 2282L2833 2282L2830 2293L2828 2304L2821 2316L2822 2330L2832 2338L2835 2351L2847 2357L2858 2366L2867 2377L2869 2388L2868 2401L2877 2417L2869 2418L2858 2410L2844 2400L2838 2388L2834 2371L2833 2361L2827 2356L2819 2346L2811 2343L2812 2332L2814 2321L2815 2302L2813 2287L2808 2276L2804 2261L2803 2247L2794 2242L2780 2255L2767 2253L2768 2235L2767 2221L2758 2207L2747 2194L2741 2184L2738 2176L2724 2174L2722 2183L2708 2184L2697 2187L2686 2194L2683 2200L2677 2207L2663 2214L2652 2226L2633 2243L2622 2253L2611 2258L2608 2276L2611 2287L2609 2298L2606 2318L2600 2318L2597 2329L2588 2334L2580 2343L2570 2332L2566 2321L2558 2302L2550 2287L2545 2266L2536 2253L2530 2233L2528 2218L2527 2202L2526 2190L2525 2180L2519 2192L2507 2198L2488 2184L2486 2177L2500 2171L2484 2168L2477 2162L2468 2158L2464 2147L2458 2141L2436 2143L2414 2143L2403 2145L2380 2141L2358 2137L2353 2124L2345 2120L2328 2126L2312 2124L2303 2115L2290 2110L2284 2097L2277 2083L2264 2078L2259 2084L2253 2090L2258 2102L2269 2119L2276 2126L2277 2138L2284 2148L2288 2132L2293 2143L2289 2152L2303 2156L2319 2157L2334 2142L2343 2132L2346 2146L2348 2153L2370 2163L2384 2176L2375 2190L2369 2201L2361 2203L2360 2218L2347 2229L2333 2235L2319 2241L2299 2253L2286 2261L2264 2273L2247 2280L2219 2289L2203 2291L2199 2284L2195 2265L2194 2249L2186 2235L2177 2220L2166 2203L2155 2190L2151 2174L2142 2158L2133 2146L2127 2133L2114 2117L2108 2107L2107 2091L2103 2106L2100 2111L2090 2101L2082 2084L2078 2068L2092 2069L2101 2066L2106 2055L2108 2044L2114 2031L2118 2017L2117 2004L2122 1994L2112 1995L2097 2000L2081 2002L2064 1993L2058 1998L2042 1998L2031 1993L2023 1990L2022 1977L2014 1969L2017 1957L2011 1953L2011 1946L2025 1941L2042 1941L2044 1933L2058 1931L2070 1928L2086 1918L2108 1918L2122 1927L2136 1931L2158 1933L2181 1925L2181 1910L2164 1895L2147 1883L2134 1875L2128 1867L2142 1856L2144 1840L2155 1837L2136 1843L2120 1846L2108 1853L2111 1864L2125 1867L2114 1872L2103 1880L2092 1880L2082 1867L2092 1858L2081 1855L2070 1846L2062 1848L2050 1867L2038 1880L2036 1895L2030 1906L2031 1918L2040 1928L2042 1931L2031 1933L2023 1937L2014 1941L2011 1943L2010 1937L2003 1934L1986 1936L1981 1943L1986 1947L1975 1941L1972 1940L1971 1950L1977 1959L1975 1965L1986 1973L1986 1980L1977 1977L1977 1984L1973 1997L1969 1998L1961 1993L1955 1979L1959 1972L1950 1963L1944 1953L1936 1940L1935 1924L1931 1915L1920 1907L1903 1895L1890 1883L1881 1869L1872 1862L1858 1866L1856 1880L1860 1888L1871 1895L1878 1912L1890 1919L1899 1919L1898 1927L1911 1934L1925 1946L1924 1950L1911 1941L1904 1952L1910 1962L1903 1969L1899 1977L1893 1976L1895 1966L1900 1957L1894 1947L1884 1939L1878 1936L1870 1930L1856 1922L1849 1913L1836 1903L1833 1889L1825 1884L1818 1881L1809 1889L1802 1892L1789 1901L1775 1897L1764 1895L1755 1903L1755 1913L1753 1921L1744 1928L1729 1936L1718 1953L1717 1957L1722 1965L1713 1973L1710 1981L1699 1991L1694 1994L1671 1994L1660 2002L1652 2000L1649 1991L1642 1987L1632 1990L1621 1990L1622 1976L1618 1969L1614 1965L1618 1955L1622 1940L1623 1925L1621 1913L1617 1903L1629 1894L1642 1894L1664 1894L1681 1895L1700 1897L1704 1880L1708 1864L1707 1853L1697 1840L1689 1832L1672 1827L1667 1817L1681 1810L1698 1814L1702 1812L1701 1795L1707 1800L1721 1798L1722 1795L1737 1786L1738 1774L1748 1770L1759 1765L1764 1754L1772 1738L1779 1731L1796 1729L1800 1723L1810 1727L1815 1719L1819 1712L1815 1698L1811 1687L1810 1667L1815 1657L1829 1648L1838 1644L1835 1669L1841 1671L1833 1683L1828 1693L1829 1702L1841 1710L1842 1718L1855 1714L1869 1706L1878 1719L1898 1712L1920 1702L1927 1710L1940 1708L1947 1700L1954 1689L1953 1663L1959 1648L1970 1644L1979 1659L1987 1659L1991 1632L1981 1623L1980 1612L1995 1606L2014 1604L2031 1606L2055 1597L2036 1584L2020 1584L1997 1590L1975 1597L1964 1584L1956 1572L1959 1537L1964 1520L1986 1487L2001 1474L2001 1461L1989 1453L1966 1456L1959 1474L1953 1500L1942 1513L1925 1530L1914 1549L1911 1572L1912 1581L1925 1593L1929 1606L1922 1610L1909 1623L1904 1642L1903 1663L1898 1675L1884 1677L1879 1689L1864 1691L1862 1679L1859 1669L1852 1644L1844 1627L1842 1615L1838 1597L1833 1615L1825 1621L1811 1636L1798 1638L1783 1623L1775 1606L1777 1572L1775 1549L1789 1535L1803 1523L1816 1513L1831 1500L1842 1480L1855 1461L1862 1434L1875 1411L1886 1391L1875 1382L1898 1367L1914 1345L1931 1329L1953 1322L1975 1302L1992 1296ZM2078 2068L2064 2064L2053 2066L2042 2072L2020 2066L2000 2062L1981 2055L1964 2047L1944 2052L1942 2070L1933 2079L1914 2072L1892 2062L1889 2053L1866 2045L1848 2041L1840 2035L1832 2027L1840 2017L1842 2009L1838 1998L1842 1990L1833 1987L1829 1986L1814 1991L1798 1990L1775 1993L1753 1993L1731 1998L1720 2006L1705 2015L1695 2016L1687 2013L1670 2015L1661 2006L1654 2006L1650 2020L1644 2031L1636 2036L1624 2041L1617 2051L1611 2064L1612 2077L1607 2092L1592 2105L1577 2110L1570 2121L1559 2130L1553 2146L1542 2160L1532 2180L1530 2195L1539 2208L1537 2223L1537 2243L1535 2255L1526 2268L1533 2281L1533 2293L1542 2301L1553 2310L1559 2318L1570 2327L1573 2338L1581 2349L1594 2358L1614 2374L1634 2384L1653 2379L1676 2375L1692 2377L1700 2379L1720 2370L1733 2365L1748 2362L1764 2361L1775 2367L1781 2377L1786 2385L1798 2384L1812 2382L1819 2381L1828 2389L1829 2399L1828 2410L1823 2420L1825 2430L1818 2440L1823 2452L1828 2460L1836 2471L1844 2479L1853 2488L1856 2499L1862 2510L1869 2527L1865 2535L1873 2555L1870 2572L1859 2584L1855 2601L1851 2618L1851 2636L1859 2653L1868 2671L1880 2689L1881 2707L1886 2738L1894 2756L1903 2765L1909 2779L1915 2795L1922 2808L1920 2818L1924 2833L1925 2838L1934 2842L1942 2845L1959 2840L1975 2836L1995 2837L2005 2834L2020 2828L2031 2821L2044 2805L2056 2792L2064 2781L2075 2765L2084 2750L2085 2732L2092 2723L2108 2716L2114 2705L2113 2685L2108 2671L2105 2657L2120 2646L2131 2633L2153 2622L2166 2611L2173 2599L2171 2577L2169 2553L2162 2544L2158 2527L2156 2508L2151 2499L2153 2488L2161 2477L2167 2462L2175 2455L2182 2449L2192 2438L2208 2421L2223 2410L2242 2388L2256 2371L2264 2355L2273 2341L2280 2327L2286 2315L2289 2301L2280 2299L2269 2305L2253 2307L2236 2312L2218 2316L2203 2306L2199 2303L2201 2293L2192 2284L2181 2272L2169 2264L2158 2257L2153 2243L2147 2229L2135 2220L2133 2206L2133 2194L2129 2182L2116 2164L2114 2158L2107 2146L2100 2130L2095 2117L2090 2106L2082 2090L2082 2084ZM2267 2567L2277 2584L2278 2603L2273 2610L2272 2624L2264 2647L2256 2671L2247 2695L2242 2718L2225 2725L2211 2719L2204 2701L2201 2683L2211 2665L2213 2647L2208 2630L2214 2615L2230 2610L2242 2601L2253 2587L2262 2578ZM2606 2324L2617 2332L2622 2338L2629 2351L2627 2361L2615 2366L2608 2364L2606 2352L2606 2340ZM1657 1789L1676 1785L1681 1779L1698 1779L1709 1776L1723 1776L1735 1769L1731 1763L1728 1763L1739 1744L1734 1738L1723 1736L1720 1738L1723 1727L1719 1725L1718 1714L1707 1706L1702 1689L1695 1679L1684 1679L1691 1673L1697 1659L1700 1646L1681 1644L1673 1648L1683 1638L1687 1625L1664 1625L1661 1638L1656 1653L1658 1667L1651 1673L1659 1679L1657 1693L1664 1689L1667 1698L1663 1704L1671 1704L1681 1700L1681 1712L1687 1719L1687 1729L1671 1731L1672 1740L1674 1747L1669 1754L1661 1756L1664 1762L1676 1762L1687 1765L1690 1763L1683 1769L1673 1769L1670 1776L1662 1786ZM1653 1718L1659 1708L1653 1695L1639 1693L1628 1696L1624 1706L1626 1712L1609 1714L1610 1729L1620 1732L1614 1740L1610 1751L1606 1754L1609 1762L1614 1763L1628 1758L1642 1753L1650 1751L1652 1740L1651 1731ZM3173 2031L3174 2025L3191 2012L3207 2009L3224 2009L3230 2000L3237 1986L3244 1983L3241 1993L3257 1986L3268 1969L3274 1949L3274 1939L3277 1930L3285 1925L3289 1927L3291 1940L3296 1955L3291 1972L3285 1979L3285 1993L3283 2008L3277 2016L3272 2019L3271 2013L3263 2016L3261 2023L3254 2023L3241 2023L3238 2027L3233 2033L3227 2038L3220 2032L3221 2027L3218 2023L3207 2021L3196 2027L3188 2031L3180 2031ZM3174 2032L3182 2036L3185 2047L3180 2060L3174 2066L3171 2070L3165 2068L3165 2057L3161 2048L3158 2041L3167 2036ZM3191 2032L3207 2025L3215 2031L3210 2040L3203 2037L3196 2048L3190 2044L3187 2037ZM3276 1925L3274 1913L3277 1900L3288 1898L3293 1880L3294 1866L3307 1880L3322 1888L3333 1883L3333 1898L3338 1898L3324 1903L3311 1918L3296 1910L3285 1912L3278 1913L3285 1921L3282 1925ZM3296 1712L3305 1718L3309 1745L3311 1772L3324 1803L3307 1802L3305 1824L3309 1843L3312 1856L3302 1846L3297 1858L3295 1832L3297 1807L3297 1772L3293 1749L3294 1727ZM3069 2142L3074 2146L3070 2158L3063 2174L3061 2183L3054 2175L3053 2164L3061 2151L3063 2146ZM2926 2215L2935 2206L2948 2205L2952 2211L2946 2220L2936 2227L2926 2223ZM3059 2223L3076 2223L3077 2237L3074 2250L3069 2264L3070 2273L3080 2273L3095 2278L3097 2291L3089 2287L3080 2281L3071 2277L3062 2278L3059 2270L3052 2264L3051 2250L3056 2246L3056 2235ZM3113 2323L3122 2338L3124 2352L3120 2362L3112 2370L3110 2362L3096 2360L3096 2352L3091 2349L3075 2356L3077 2346L3085 2338L3094 2341L3102 2338L3107 2332ZM3100 2293L3111 2293L3115 2307L3110 2319L3105 2320L3101 2311L3103 2304ZM3074 2301L3086 2303L3091 2312L3096 2319L3089 2330L3081 2328L3079 2321L3074 2315ZM3021 2339L3030 2332L3044 2318L3047 2305L3043 2310L3033 2322L3022 2333ZM3056 2282L3065 2282L3069 2291L3065 2296L3061 2290ZM2936 2409L2952 2415L2956 2406L2973 2398L2984 2382L2992 2378L2996 2377L3008 2365L3015 2355L3025 2361L3030 2368L3043 2374L3032 2380L3030 2385L3025 2393L3027 2408L3040 2421L3027 2424L3024 2432L3022 2444L3013 2450L3011 2464L3008 2472L2993 2478L2991 2470L2974 2468L2961 2471L2943 2465L2942 2451L2932 2439L2930 2429L2929 2419ZM2778 2370L2802 2375L2811 2386L2827 2397L2835 2407L2847 2413L2861 2421L2871 2432L2869 2444L2880 2452L2883 2459L2896 2466L2895 2483L2894 2497L2881 2497L2878 2494L2855 2477L2841 2460L2833 2444L2820 2429L2815 2414L2799 2397L2780 2379ZM2888 2508L2898 2498L2908 2498L2924 2505L2946 2509L2952 2504L2971 2509L2972 2515L2991 2518L2990 2528L2974 2525L2952 2524L2930 2518L2913 2518L2901 2514ZM2991 2523L3004 2524L3003 2531L2992 2528ZM3008 2525L3015 2525L3014 2532L3008 2532ZM3016 2526L3030 2523L3042 2525L3041 2531L3027 2533L3016 2533ZM3050 2526L3063 2525L3085 2524L3083 2529L3063 2532L3050 2531ZM3041 2538L3052 2536L3061 2544L3052 2547L3041 2542ZM3091 2547L3102 2535L3118 2527L3133 2526L3124 2533L3107 2542L3096 2547ZM3050 2424L3062 2418L3084 2423L3103 2419L3110 2415L3105 2423L3095 2428L3080 2427L3062 2427L3054 2432L3053 2441L3063 2447L3071 2442L3089 2440L3089 2444L3076 2450L3070 2454L3077 2468L3085 2477L3087 2491L3077 2486L3070 2485L3069 2477L3063 2466L3062 2462L3056 2469L3056 2494L3046 2494L3046 2471L3040 2462L3044 2447L3050 2434ZM3135 2409L3141 2416L3148 2416L3141 2426L3148 2429L3141 2440L3138 2427L3134 2421ZM3141 2466L3157 2464L3172 2469L3163 2472L3146 2471ZM3118 2468L3130 2467L3132 2472L3122 2475ZM3173 2442L3191 2437L3207 2441L3210 2455L3218 2469L3230 2457L3246 2449L3263 2455L3285 2461L3307 2470L3324 2475L3338 2486L3346 2495L3360 2501L3360 2507L3352 2508L3357 2517L3368 2527L3379 2538L3394 2546L3385 2551L3363 2545L3352 2537L3340 2527L3327 2518L3316 2522L3307 2534L3285 2534L3268 2523L3252 2526L3261 2514L3258 2505L3252 2494L3230 2484L3210 2476L3196 2477L3194 2469L3185 2464L3202 2458L3187 2457L3174 2448ZM3367 2496L3379 2494L3390 2493L3402 2487L3409 2478L3412 2486L3402 2495L3385 2503L3374 2501ZM3394 2461L3407 2468L3418 2480L3416 2484L3405 2471L3393 2464ZM3302 2552L3313 2572L3316 2593L3324 2595L3333 2607L3335 2622L3340 2636L3344 2646L3357 2652L3368 2662L3376 2673L3383 2687L3394 2693L3394 2701L3405 2711L3413 2719L3420 2729L3419 2746L3425 2763L3419 2788L3417 2804L3410 2814L3399 2832L3394 2848L3386 2865L3384 2882L3363 2888L3352 2895L3344 2905L3335 2896L3327 2893L3313 2900L3296 2893L3282 2889L3272 2875L3268 2861L3261 2856L3257 2845L3253 2837L3248 2849L3239 2850L3245 2834L3249 2821L3249 2814L3243 2828L3232 2838L3227 2845L3221 2841L3215 2824L3207 2817L3202 2809L3185 2808L3176 2801L3152 2803L3130 2810L3113 2816L3096 2821L3091 2833L3073 2833L3052 2833L3041 2840L3030 2848L3014 2848L2999 2838L2996 2829L3004 2825L3004 2808L3000 2788L2995 2772L2988 2753L2980 2734L2983 2725L2980 2713L2982 2695L2983 2687L2988 2681L2992 2688L3002 2675L3016 2666L3032 2663L3046 2659L3063 2654L3076 2638L3076 2626L3085 2618L3092 2628L3096 2616L3105 2607L3116 2595L3127 2589L3138 2596L3144 2601L3154 2600L3160 2587L3166 2578L3172 2571L3180 2569L3191 2568L3192 2560L3202 2564L3218 2569L3230 2567L3238 2569L3235 2580L3228 2587L3227 2599L3235 2609L3248 2615L3263 2623L3268 2630L3279 2631L3285 2618L3291 2601L3293 2584L3292 2572L3296 2555ZM3326 2928L3340 2934L3357 2931L3366 2931L3366 2947L3363 2962L3352 2971L3340 2970L3333 2956L3332 2944ZM3637 2840L3644 2848L3655 2857L3660 2872L3668 2870L3674 2884L3687 2889L3701 2885L3696 2902L3688 2908L3685 2912L3682 2924L3666 2941L3660 2937L3665 2924L3660 2915L3649 2909L3658 2900L3659 2886L3656 2874L3649 2859L3640 2848ZM3637 2925L3650 2931L3655 2943L3648 2953L3638 2967L3641 2974L3621 2982L3618 3001L3615 3007L3605 3017L3590 3019L3579 3012L3568 3006L3577 2990L3588 2977L3605 2967L3618 2956L3624 2944L3631 2929ZM3540 2660L3557 2671L3574 2687L3568 2687L3551 2676L3540 2664ZM3688 2630L3701 2630L3702 2637L3689 2637ZM3984 2208L3994 2207L3997 2212L3989 2218L3984 2213ZM2484 3058L2497 3055L2502 3065L2491 3068L2485 3067ZM778 2183L799 2171L810 2168L826 2169L843 2177L860 2186L876 2193L896 2203L882 2207L857 2208L863 2199L849 2188L826 2184L810 2178L793 2180L782 2184ZM893 2225L905 2227L915 2227L924 2233L937 2227L954 2225L961 2222L954 2215L944 2209L924 2207L910 2207L905 2209L912 2216L916 2222L904 2222L894 2221ZM851 2226L865 2223L874 2229L865 2232L852 2229ZM974 2225L992 2225L991 2229L974 2229ZM1033 2313L1044 2312L1043 2320L1033 2320ZM1062 1830L1071 1815L1076 1798L1087 1778L1098 1763L1104 1763L1101 1781L1089 1790L1101 1791L1115 1798L1126 1803L1132 1815L1135 1830L1129 1845L1120 1843L1118 1833L1109 1840L1101 1842L1098 1830L1082 1830ZM295 1776L307 1774L321 1783L329 1786L335 1793L345 1803L350 1815L338 1817L330 1810L321 1802L310 1791L300 1785ZM244 1714L258 1718L257 1732L264 1751L251 1740L244 1725ZM4001 1653L4023 1638L4026 1648L4012 1661ZM1004 1791L1026 1797L1034 1805L1015 1802ZM1005 1842L1021 1850L1032 1848L1026 1856L1012 1853ZM1858 1977L1870 1973L1893 1972L1889 1987L1888 1994L1879 1991L1860 1981ZM1822 1930L1828 1940L1826 1959L1819 1963L1813 1959L1813 1941L1811 1934ZM1824 1903L1825 1915L1822 1927L1815 1919L1815 1910ZM1981 2009L1997 2012L2012 2013L2011 2017L1994 2019L1981 2015ZM2078 2016L2086 2012L2104 2008L2097 2017L2086 2023L2080 2020ZM1843 1685L1853 1677L1860 1685L1855 1698L1844 1695ZM1829 1689L1839 1689L1840 1696L1832 1698ZM1922 1659L1931 1640L1932 1650L1924 1661ZM1747 1953L1755 1949L1758 1955L1753 1957ZM2313 2291L2325 2291L2323 2295L2314 2295ZM2256 1351L2269 1345L2275 1360L2264 1370ZM2369 1322L2389 1316L2389 1335L2375 1338ZM2292 1242L2292 1275L2308 1299L2330 1309L2358 1309L2353 1289L2336 1285L2342 1242ZM3886 1706L3901 1698L3902 1704L3889 1710ZM3859 1727L3870 1718L3871 1725L3862 1731ZM3840 1734L3851 1727L3852 1732L3842 1738ZM3810 1515L3826 1508L3842 1518L3831 1523L3812 1518ZM3859 1590L3871 1586L3877 1595L3867 1599ZM3705 1292L3723 1278L3743 1285L3740 1299L3712 1302ZM851 2145L856 2146L859 2156L852 2154ZM3335 1891L3346 1880L3344 1886ZM3352 1872L3368 1862L3372 1866L3357 1875ZM3435 1802L3449 1785L3453 1778L3443 1797ZM3121 2040L3128 2037L3128 2040L3122 2041ZM3137 2132L3144 2124L3141 2130ZM1532 2103L1541 2101L1538 2109ZM1559 2107L1567 2100L1566 2106Z" fill="#f2f2f2"/><path d="M2242 1861L2247 1880L2247 1903L2258 1921L2269 1939L2278 1943L2267 1957L2264 1972L2269 1983L2286 1993L2308 1991L2319 1986L2318 1963L2308 1957L2314 1947L2306 1940L2308 1925L2303 1918L2292 1900L2278 1883L2286 1872L2308 1867L2310 1845L2292 1840L2269 1848L2258 1856ZM2536 1864L2544 1851L2564 1845L2591 1846L2597 1853L2575 1851L2552 1853L2541 1869ZM2871 1763L2880 1758L2896 1745L2919 1727L2935 1702L2940 1683L2930 1687L2922 1712L2902 1732L2883 1749ZM2055 1595L2070 1595L2084 1584L2084 1568L2070 1556L2056 1568L2053 1584ZM2103 1572L2120 1572L2125 1554L2114 1532L2103 1542L2108 1556ZM2366 1858L2375 1843L2386 1846L2380 1859L2370 1872L2366 1869ZM699 1845L715 1832L732 1824L741 1808L760 1812L776 1825L780 1842L782 1848L765 1848L749 1846L740 1837L726 1843L712 1845ZM745 1918L760 1921L763 1903L761 1888L771 1872L776 1859L765 1858L754 1862L743 1877L749 1888L744 1903ZM780 1858L793 1855L810 1856L826 1862L832 1875L817 1877L813 1895L805 1903L801 1889L790 1892L795 1874L793 1867ZM794 1922L810 1925L826 1918L843 1907L841 1904L821 1907L804 1916ZM834 1898L854 1898L873 1895L873 1886L860 1889L843 1892ZM622 1721L632 1721L638 1740L649 1772L650 1783L643 1783L640 1763L627 1745L619 1732ZM331 1442L355 1423L377 1420L393 1423L413 1437L405 1450L388 1456L371 1466L360 1474L351 1469L366 1450L349 1450ZM421 1572L438 1575L455 1561L471 1551L488 1540L507 1530L493 1528L477 1532L460 1540L443 1544L432 1537L423 1554ZM2072 2438L2081 2429L2095 2429L2100 2438L2097 2449L2090 2460L2075 2460L2072 2449ZM2044 2470L2050 2483L2051 2499L2062 2516L2066 2529L2060 2525L2050 2508L2044 2494L2042 2479ZM2097 2540L2103 2550L2105 2567L2111 2584L2108 2594L2103 2586L2100 2567L2097 2552ZM2566 1912L2580 1906L2591 1909L2580 1916L2569 1915ZM1858 1627L1868 1610L1875 1617L1868 1630Z" fill="#cfcfcf"/><path d="M351 1807L663 1807L663 1800L668 1802L670 1812L688 1814L704 1822L721 1822L726 1824L739 1819L778 1842L782 1848L786 1853L793 1859L804 1867L809 1894L805 1903L804 1909L797 1915L797 1918L804 1922L832 1913L843 1906L842 1898L841 1895L846 1894L867 1894L872 1886L884 1875L891 1872L926 1872L927 1869L934 1867L940 1858L943 1845L952 1833L955 1837L963 1834L967 1838L967 1861L972 1867L975 1870L977 1875M155 1342L155 1588L175 1593L194 1619L206 1606L216 1599L223 1610L239 1630L257 1667L276 1677L277 1693L270 1704M420 2051L447 2048L446 2051L487 2066L519 2066L519 2060L538 2060L554 2074L560 2088L574 2096L583 2086L594 2086L607 2105L615 2115L620 2128L641 2135M696 2270L696 2261L702 2251L716 2251L705 2239L710 2232L730 2232L740 2223M730 2232L730 2254L733 2254M728 2271L741 2256M720 2278L728 2271L738 2276L746 2277L745 2282M751 2287L758 2278L776 2269L796 2264M769 2309L791 2311M800 2342L803 2325M855 2352L861 2337M921 2303L915 2315L910 2330L917 2343L921 2355L943 2355L950 2365L971 2364L967 2382L974 2401L977 2419M977 2419L971 2410L945 2414L950 2421L943 2427L943 2435L950 2446L944 2479M944 2479L935 2475L911 2459L899 2444L885 2432L873 2428L860 2425L845 2417M885 2432L882 2449L870 2461L851 2470L846 2484L836 2483L829 2470M944 2479L912 2489L907 2506L899 2516L910 2537L918 2544L936 2538L936 2555L948 2555M948 2555L957 2572L954 2586L950 2601L952 2612L947 2628L948 2630L938 2640M948 2555L962 2555L981 2543L995 2542L994 2563L1005 2572L1023 2578L1034 2584L1048 2587L1052 2616L1072 2616L1073 2628L1082 2638L1078 2647L1074 2657L1074 2662M1074 2662L1064 2651L1035 2654L1025 2685L1006 2693L996 2684L985 2681L974 2693L963 2677L960 2659L956 2647L948 2630M974 2693L976 2695L973 2707L960 2717L960 2735L947 2762L943 2773L938 2796L940 2814L945 2825L943 2838L938 2850L932 2868L930 2885L933 2899L925 2912L923 2931L923 2950L921 2970L925 2987L923 3004L923 3023L917 3033L915 3053L906 3065L910 3087L917 3093L917 3111M1025 2685L1043 2705L1065 2714L1079 2723L1069 2746L1094 2749L1101 2748L1114 2727M1074 2662L1077 2684L1098 2687L1103 2706L1117 2707L1114 2727M1114 2727L1123 2735L1124 2745L1101 2760L1081 2784L1076 2801L1074 2821L1072 2834M1081 2784L1098 2793L1104 2793L1120 2806L1127 2817L1127 2830M977 2419L993 2424L1010 2415L1016 2408L1007 2387L1023 2391L1043 2382L1046 2375L1053 2377L1056 2384L1059 2394L1054 2407L1065 2418L1076 2415L1093 2411L1099 2406L1114 2407L1132 2407L1140 2397L1147 2387M1046 2375L1038 2367L1042 2358L1051 2355L1054 2338M1086 2366L1084 2377L1076 2388L1081 2396L1093 2411M1120 2368L1116 2377L1118 2389L1114 2407M1621 1919L1629 1916L1647 1919L1651 1924L1643 1933L1644 1943L1642 1952L1637 1953L1642 1962L1639 1970L1642 1976L1637 1983L1638 1987M1700 1897L1712 1904L1728 1906L1739 1910L1755 1912M1803 1891L1805 1884L1796 1880L1798 1869L1795 1859L1798 1858L1795 1850L1788 1853L1788 1846L1798 1832L1804 1830L1804 1815L1811 1807L1791 1798L1784 1798L1774 1793L1767 1790L1767 1785L1753 1776L1748 1770M1758 1765L1768 1765L1775 1763L1784 1769L1786 1776L1788 1758L1795 1756L1798 1749L1800 1732M1786 1776L1789 1786L1791 1798M1815 1700L1830 1702M1878 1719L1880 1732L1876 1740L1883 1753L1885 1772L1879 1774L1856 1785L1859 1793L1873 1810L1864 1820L1864 1832L1854 1830L1836 1832L1826 1832L1814 1829L1804 1830M1798 1858L1808 1858L1813 1850L1820 1858L1823 1850L1832 1851L1835 1846L1836 1842L1826 1838L1826 1832M1836 1842L1844 1840L1855 1840L1858 1845L1872 1848L1886 1846L1899 1842L1903 1833L1910 1824M1873 1810L1886 1807L1907 1812L1910 1824M1885 1772L1901 1779L1907 1783L1916 1785L1929 1798L1920 1807L1909 1810L1907 1812M1929 1798L1940 1803L1945 1800L1959 1800L1971 1805L1972 1797L1986 1779L1982 1763L1977 1749L1985 1740L1981 1719L1973 1710L1940 1709M1973 1710L1972 1700L1956 1693M1981 1719L2003 1714L2015 1693L2015 1685L1996 1671L1974 1671L1954 1677M2015 1685L2033 1677L2027 1650L2024 1648L2014 1648L2003 1638L1990 1640M2024 1648L2025 1619L2032 1608M2028 1584L2047 1561L2070 1528L2053 1508L2053 1456L2043 1423L2053 1400L2036 1376L2041 1359L2062 1335M2041 1359L2045 1345L2031 1326L2008 1338L2005 1354L1995 1373L1969 1370L1956 1351L1949 1359L1983 1394L1981 1414L1989 1453M1949 1359L1942 1379L1921 1376L1905 1394L1891 1434L1881 1445L1882 1466L1872 1485L1876 1500L1855 1513L1854 1549L1856 1572L1860 1586L1851 1599L1851 1612L1843 1617M2033 1677L2063 1687L2062 1702L2073 1718L2083 1729L2070 1734L2073 1753L2095 1747L2113 1772L2115 1783L2136 1783L2143 1791L2165 1797L2162 1814L2161 1827L2144 1838M1982 1763L1997 1756L2025 1763L2045 1765L2060 1767L2063 1754L2073 1753M1965 1817L1974 1824L1996 1829L2015 1819L2031 1820L2044 1825L2054 1850L2033 1864L2048 1867M2015 1819L2032 1842L2033 1864M1910 1824L1929 1827L1942 1820L1965 1817L1971 1805M1974 1824L1964 1832L1955 1850L1945 1854L1930 1858L1914 1858L1903 1848L1899 1842M1945 1854L1957 1869L1959 1875L1970 1877L1972 1884L1975 1891L2003 1892L2020 1886L2037 1891M1972 1884L1969 1894L1975 1900L1969 1913L1975 1928L1992 1925L2010 1927L2013 1922L2025 1918L2031 1918M2013 1922L2015 1928L2012 1934L2008 1937M1942 1952L1951 1934L1953 1936L1974 1928L1975 1928M1935 1919L1943 1910L1947 1919L1947 1928L1951 1934M1894 1869L1907 1869L1931 1874L1935 1884L1936 1895L1925 1909L1915 1903L1900 1884L1894 1869M1871 1864L1890 1864L1894 1853L1903 1848M1930 1858L1932 1869L1931 1874M1936 1895L1946 1906L1959 1913L1969 1913M2164 1897L2192 1900L2208 1909L2225 1910L2236 1919L2250 1930L2259 1921M2181 1925L2195 1924L2203 1931L2219 1928L2236 1931M2203 1931L2205 1946L2217 1952L2208 1956L2214 1972L2211 1977L2217 1987L2191 1988L2164 1993L2142 1993L2127 1993L2122 2005M2217 1952L2236 1963L2253 1952L2263 1970M2191 1988L2177 2020L2151 2039L2128 2053L2116 2048M2115 2048L2114 2064L2108 2090M2100 2066L2107 2090M2108 2091L2121 2093L2136 2083L2142 2077L2131 2064L2155 2056L2151 2039M2155 2056L2168 2059L2187 2069L2216 2093L2236 2095L2247 2083L2253 2083M2236 2095L2247 2102L2257 2102M2217 1987L2224 2004L2230 2016L2224 2031L2232 2044L2246 2052L2249 2070L2253 2077L2259 2084M2195 2248L2199 2236L2211 2236L2234 2239L2247 2240L2265 2222L2297 2218L2330 2206L2338 2182L2333 2174L2304 2171L2293 2156M2333 2174L2339 2156L2343 2149L2346 2147M2297 2218L2309 2245M2318 1985L2328 1984L2342 1974L2355 1972L2368 1981L2378 1983L2390 1995L2399 1995L2399 2009L2391 2024L2396 2037L2393 2044L2395 2064L2406 2065L2405 2073L2396 2085L2406 2101L2417 2105L2423 2119L2417 2126L2406 2131L2404 2143M2396 2085L2414 2091L2434 2090L2456 2084L2457 2072L2472 2065L2489 2059L2491 2044L2500 2040L2497 2031L2509 2027L2515 2015L2510 2004L2525 1993L2547 1990L2551 1987M2399 2009L2411 2013L2420 2006L2436 2000L2439 1988L2458 1985L2472 1987L2475 1990L2490 1987L2499 1981L2500 1972L2510 1977L2515 1994L2527 1987L2539 1984L2551 1987M2477 2162L2508 2152L2499 2127L2501 2109L2529 2096L2540 2083L2549 2069L2547 2051L2557 2053L2541 2041L2541 2021L2572 2009L2583 2010M2551 1987L2562 1994L2583 2010L2596 2027L2593 2049L2595 2066L2620 2081L2631 2079L2652 2097L2672 2105L2698 2110M2620 2081L2609 2098L2630 2110L2652 2116L2674 2126L2698 2128L2698 2110M2707 2117L2717 2106L2737 2111L2742 2122L2717 2125L2707 2117M2737 2111L2758 2100L2780 2095L2800 2106L2788 2117L2777 2133L2770 2149L2756 2158L2757 2182L2748 2190L2744 2198M2707 2186L2706 2154L2698 2152L2698 2128L2708 2131L2717 2142L2746 2146L2732 2158L2744 2170L2748 2190M2800 2106L2815 2114L2817 2133L2803 2154L2818 2168L2821 2181L2842 2187L2854 2177L2873 2176L2889 2166L2904 2172L2904 2182L2919 2188M2842 2187L2831 2201L2808 2209L2804 2223L2814 2249L2810 2263L2821 2293L2815 2319M2831 2201L2835 2212L2843 2212L2841 2232L2853 2227L2868 2225L2882 2236L2883 2249L2892 2259L2888 2272L2863 2273L2858 2280L2862 2302M2879 2316L2887 2311L2899 2310L2895 2302L2913 2294L2913 2268L2896 2271L2888 2272M2913 2268L2913 2250L2902 2241L2885 2221L2873 2214L2884 2203L2879 2196L2863 2193L2854 2177M2831 2360L2842 2369L2853 2364M2936 2410L2946 2423L2961 2421L2974 2417L2992 2416L2996 2401L3004 2386L3025 2386M3285 2461L3285 2534M2259 1846L2245 1827L2236 1817L2242 1803L2240 1790L2259 1791L2260 1779L2284 1760L2303 1763L2325 1772L2338 1779L2370 1772L2401 1776L2404 1767L2386 1754L2397 1736L2399 1718L2441 1710L2486 1691L2508 1714L2536 1718L2572 1710L2585 1731L2609 1776L2646 1772L2667 1797L2689 1803L2694 1803L2716 1791L2743 1776L2770 1790L2810 1779L2805 1772L2818 1753L2854 1767L2855 1779L2903 1785L2924 1802L2969 1798L2989 1785L3015 1793L3027 1798L3044 1788L3060 1745L3052 1731L3092 1727L3118 1740L3135 1785L3168 1808L3174 1829L3215 1817L3198 1870L3177 1888L3176 1904L3170 1912M2694 1803L2697 1814L2724 1832L2730 1869L2758 1874L2779 1883L2790 1907L2850 1910L2885 1924L2935 1910L2962 1892L2956 1881L2981 1875L3006 1861L3014 1851L3049 1845L3051 1829L3035 1825L3023 1829L3003 1825L3015 1793M2689 1803L2671 1817L2669 1838L2641 1837L2633 1864L2609 1872L2617 1900L2610 1915L2586 1933L2572 1941L2541 1946L2539 1955L2539 1967L2551 1987M2341 1928L2341 1872L2370 1862L2398 1883L2408 1895L2440 1892L2454 1903L2452 1918L2475 1933L2497 1915L2508 1913L2536 1912L2544 1900L2561 1904L2598 1906L2610 1915M2302 1922L2320 1913L2341 1928L2353 1928L2370 1906L2386 1915L2387 1927L2407 1931L2414 1947L2433 1963L2458 1985M2475 1933L2502 1947L2539 1955M3101 1947L3128 1921L3144 1925L3160 1912L3170 1912M3125 1979L3145 1967M1695 2016L1700 2025L1701 2040L1707 2056L1680 2062L1679 2072L1662 2084L1623 2100L1623 2112L1573 2112M1623 2112L1623 2133L1587 2133L1587 2164L1576 2170L1576 2190L1531 2190M1623 2117L1667 2146L1733 2193L1740 2202L1755 2208L1757 2218L1767 2216L1784 2212L1803 2195L1853 2164L1830 2148L1831 2127L1829 2105L1825 2081L1820 2056L1804 2040L1812 2021L1812 1997L1815 1991M1825 2081L1834 2072L1834 2060L1848 2049L1848 2042M2000 2062L1997 2093L1997 2182L2129 2182M1997 2182L1997 2206L1986 2206L1986 2212L1898 2165L1886 2170L1878 2175L1853 2164M1886 2170L1892 2194L1892 2242L1871 2270L1871 2279M1986 2212L1986 2256L1974 2257L1970 2274L1965 2290L1974 2310L1983 2322L1992 2334L2024 2376M1667 2146L1647 2147L1658 2247L1661 2258L1617 2258L1592 2257L1584 2266L1570 2250L1559 2246L1539 2247L1537 2251M1767 2216L1767 2247L1760 2258L1722 2264L1698 2273L1676 2282L1659 2306L1659 2316L1631 2319L1628 2310L1620 2294L1593 2294L1584 2266M1750 2362L1751 2332L1760 2302L1764 2281L1798 2287L1831 2284L1859 2286L1871 2279L1876 2286L1878 2294L1878 2306L1866 2327L1851 2353L1829 2357L1815 2379M1722 2264L1730 2280L1744 2294L1760 2302M1659 2316L1689 2327L1689 2310L1719 2309L1730 2310L1744 2294M1685 2376L1690 2345L1689 2327M1733 2365L1727 2341L1725 2321L1719 2309M1738 2364L1738 2332L1730 2310M1637 2384L1626 2360L1628 2348L1616 2350L1606 2338L1592 2356M1628 2348L1631 2319M1606 2338L1598 2321L1572 2332M1553 2310L1568 2302L1568 2291L1593 2294M1535 2294L1553 2290L1568 2291M1533 2280L1553 2278L1567 2282L1553 2285L1533 2286M1878 2294L1886 2310L1892 2321L1874 2325L1889 2349L1881 2366L1882 2377L1898 2408M1889 2349L1904 2347L1926 2343L1931 2332L1953 2327L1974 2310M1898 2408L1903 2394L1926 2394L1925 2385L1936 2376L1969 2387L2001 2374L2024 2376M1829 2407L1845 2408L1868 2408L1898 2408M1829 2421L1845 2421L1845 2408M1843 2476L1853 2459L1859 2458L1864 2459L1880 2454L1881 2439L1874 2432L1881 2417L1868 2408M1855 2497L1864 2484L1880 2487L1889 2480L1900 2457L1917 2438L1921 2407L1926 2394M1855 2498L1869 2498L1904 2498L1909 2514L1935 2522L1962 2514L1963 2538L1966 2558L1986 2554L1986 2572L1986 2578M1986 2578L1964 2578L1964 2615L1980 2631L1957 2636L1925 2629L1875 2629L1864 2624L1851 2628M1953 2639L1953 2683L1942 2683L1942 2717L1942 2762L1922 2768L1903 2764M1980 2631L2001 2633M1942 2717L1951 2741L1972 2725L1994 2729L2007 2716L2020 2702L2046 2685L2027 2672L2023 2665L2011 2653L2001 2633M2001 2633L2020 2636L2041 2611L2057 2608L2057 2612L2085 2621L2086 2636L2083 2665L2067 2688L2046 2685M2067 2688L2075 2713L2074 2730L2076 2741L2085 2743M2074 2730L2064 2730L2062 2741L2067 2748L2076 2741M2020 2777L2032 2767L2046 2774L2041 2786L2028 2790L2020 2777M1986 2554L2001 2558L2018 2566L2035 2572L2051 2583L2051 2568L2035 2564L2037 2535L2042 2526L2062 2524M2057 2608L2088 2589L2085 2585L2090 2571L2090 2553L2085 2537L2064 2528L2062 2524M2088 2589L2103 2595L2117 2612L2112 2625L2101 2612L2085 2621M2107 2561L2136 2563L2168 2550M2062 2524L2048 2505L2046 2481L2062 2469L2058 2459L2062 2444L2097 2444L2137 2466L2155 2485M2046 2481L2042 2464L2048 2448L2058 2445M2048 2448L2048 2426L2064 2408L2064 2391L2097 2386L2108 2413L2097 2430L2097 2444M2097 2386L2118 2381L2129 2384L2143 2393L2158 2395L2175 2389L2185 2389L2175 2401L2175 2441L2182 2451M2185 2389L2197 2381L2219 2377L2253 2343L2242 2343L2208 2333L2197 2328L2195 2311L2199 2304M2120 2384L2108 2372L2097 2355L2086 2346L2096 2339L2098 2327L2101 2314L2108 2310L2111 2298L2121 2290L2124 2271L2141 2265L2147 2271L2154 2269L2173 2274L2191 2293M2124 2271L2124 2264L2131 2241L2148 2229M2191 2293L2184 2310L2195 2311M1983 2322L1995 2323L2014 2327L2031 2329L2042 2324L2053 2318L2066 2323L2080 2302L2088 2313L2087 2327L2098 2327M2024 2376L2035 2385L2050 2381L2062 2394L2064 2391" fill="none" stroke="#c4c4c4" stroke-width="2" stroke-dasharray="5 5"/><path d="M388 1595L388 1721L405 1745L421 1763L438 1776L447 1798L453 1807M499 1595L499 1807M588 1595L594 1807M177 1595L668 1595M664 1800L664 1740L733 1661M837 1763L837 1832L842 1848L860 1856L894 1869M206 1364L206 1403L236 1420L255 1472L287 1544L312 1577L344 1595M588 1595L588 1495L471 1461L380 1391L380 1342M1086 1765L1086 1754L1012 1754L1007 1760L967 1738L984 1700L1012 1698L1004 1588M983 1824L961 1824L954 1835M341 1918L488 1918M488 1933L588 1933M455 1990L670 1990M588 1947L662 1947M566 1903L627 1903L649 1910M566 1858L648 1858M344 1853L399 1858L421 1856M421 1807L421 1918M432 1807L432 1824L449 1848L466 1880L488 1880L488 1933M566 1807L566 1933M455 1918L455 2001L448 2017M388 1918L388 1962L448 2017L447 2048M510 1933L510 2066M577 1990L577 2057L537 2057M588 1933L588 1990M577 1997L610 1997L610 2024L643 2032L671 2036M662 1947L670 1960L670 1997L671 2036L677 2044L677 2083M677 2044L708 2044M724 2083L710 2070L708 2044L721 2017L726 1997L730 1990L719 1965L705 1941L710 1925L719 1910L708 1895L690 1875L695 1845M670 1997L726 1997L877 1996M718 2017L797 2017L821 2016L849 2032M703 2070L776 2070L776 2074L810 2077M741 2017L739 2079M770 2017L776 2070M730 1990L743 1979L765 1976L779 1960L804 1967L826 1939L826 1913M826 1952L879 1952M834 1918L884 1918L904 1918M714 1910L745 1910M649 1895L708 1895M657 1939L705 1939M641 1807L648 1858L649 1895L655 1930L662 1947M797 2017L821 2057M749 1922L749 1973M779 1922L779 1960M749 1922L794 1922M792 1995L813 1986L829 1981L843 1965L857 1957M906 1872L906 1907L904 1933M915 1872L915 1907L934 1906M932 1867L932 1901M3152 2600L3152 2803M3252 2618L3252 2732L3285 2732L3285 2889M3152 2732L3252 2732M3285 2769L3374 2769L3396 2767L3424 2759M3285 2834L3313 2848L3352 2861L3365 2872L3384 2882" fill="none" stroke="#d6d6d6" stroke-width="1.6" stroke-dasharray="3 3"/><text x="451.8" y="1583.1" font-size="37.5" letter-spacing="0.73" font-family="Liberation Sans,sans-serif" fill="#f5f5f5" stroke="#f5f5f5" stroke-width="5.5" stroke-linejoin="round" opacity="0.9">Canada</text><text x="451.8" y="1583.1" font-size="37.5" letter-spacing="0.73" font-family="Liberation Sans,sans-serif" fill="#1d1d1f" stroke="#1d1d1f" stroke-width="1.25" stroke-linejoin="round">Canada</text><text x="479.2" y="1960.0" font-size="37.5" letter-spacing="1.81" font-family="Liberation Sans,sans-serif" fill="#f5f5f5" stroke="#f5f5f5" stroke-width="5.5" stroke-linejoin="round" opacity="0.9">United States</text><text x="479.2" y="1960.0" font-size="37.5" letter-spacing="1.81" font-family="Liberation Sans,sans-serif" fill="#1d1d1f" stroke="#1d1d1f" stroke-width="1.25" stroke-linejoin="round">United States</text><text x="542.1" y="2166.5" font-size="26.0" letter-spacing="0.58" font-family="Liberation Sans,sans-serif" fill="#f5f5f5" stroke="#f5f5f5" stroke-width="5.5" stroke-linejoin="round" opacity="0.9">Mexico</text><text x="542.1" y="2166.5" font-size="26.0" letter-spacing="0.58" font-family="Liberation Sans,sans-serif" fill="#1d1d1f" stroke="#1d1d1f" stroke-width="1.25" stroke-linejoin="round">Mexico</text><text x="822.5" y="2396.0" font-size="37.5" letter-spacing="1.67" font-family="Liberation Sans,sans-serif" fill="#f5f5f5" stroke="#f5f5f5" stroke-width="5.5" stroke-linejoin="round" opacity="0.9">Colombia</text><text x="822.5" y="2396.0" font-size="37.5" letter-spacing="1.67" font-family="Liberation Sans,sans-serif" fill="#1d1d1f" stroke="#1d1d1f" stroke-width="1.25" stroke-linejoin="round">Colombia</text><text x="841.2" y="2517.6" font-size="37.5" letter-spacing="2.45" font-family="Liberation Sans,sans-serif" fill="#f5f5f5" stroke="#f5f5f5" stroke-width="5.5" stroke-linejoin="round" opacity="0.9">Peru</text><text x="841.2" y="2517.6" font-size="37.5" letter-spacing="2.45" font-family="Liberation Sans,sans-serif" fill="#1d1d1f" stroke="#1d1d1f" stroke-width="1.25" stroke-linejoin="round">Peru</text><text x="1074.4" y="2556.4" font-size="37.5" letter-spacing="1.81" font-family="Liberation Sans,sans-serif" fill="#f5f5f5" stroke="#f5f5f5" stroke-width="5.5" stroke-linejoin="round" opacity="0.9">Brazil</text><text x="1074.4" y="2556.4" font-size="37.5" letter-spacing="1.81" font-family="Liberation Sans,sans-serif" fill="#1d1d1f" stroke="#1d1d1f" stroke-width="1.25" stroke-linejoin="round">Brazil</text><text x="907.0" y="2855.6" font-size="37.5" letter-spacing="2.28" font-family="Liberation Sans,sans-serif" fill="#f5f5f5" stroke="#f5f5f5" stroke-width="5.5" stroke-linejoin="round" opacity="0.9">Argentina</text><text x="907.0" y="2855.6" font-size="37.5" letter-spacing="2.28" font-family="Liberation Sans,sans-serif" fill="#1d1d1f" stroke="#1d1d1f" stroke-width="1.25" stroke-linejoin="round">Argentina</text><text x="1446.3" y="1486.5" font-size="37.5" letter-spacing="2.62" font-family="Liberation Sans,sans-serif" fill="#f5f5f5" stroke="#f5f5f5" stroke-width="5.5" stroke-linejoin="round" opacity="0.9">Iceland</text><text x="1446.3" y="1486.5" font-size="37.5" letter-spacing="2.62" font-family="Liberation Sans,sans-serif" fill="#1d1d1f" stroke="#1d1d1f" stroke-width="1.25" stroke-linejoin="round">Iceland</text><text x="1530.1" y="1714.4" font-size="37.5" letter-spacing="2.52" font-family="Liberation Sans,sans-serif" fill="#f5f5f5" stroke="#f5f5f5" stroke-width="5.5" stroke-linejoin="round" opacity="0.9">United Kingdom</text><text x="1530.1" y="1714.4" font-size="37.5" letter-spacing="2.52" font-family="Liberation Sans,sans-serif" fill="#1d1d1f" stroke="#1d1d1f" stroke-width="1.25" stroke-linejoin="round">United Kingdom</text><text x="1674.4" y="1855.6" font-size="37.5" letter-spacing="2.94" font-family="Liberation Sans,sans-serif" fill="#f5f5f5" stroke="#f5f5f5" stroke-width="5.5" stroke-linejoin="round" opacity="0.9">France</text><text x="1674.4" y="1855.6" font-size="37.5" letter-spacing="2.94" font-family="Liberation Sans,sans-serif" fill="#1d1d1f" stroke="#1d1d1f" stroke-width="1.25" stroke-linejoin="round">France</text><text x="1611.9" y="1966.3" font-size="37.5" letter-spacing="1.57" font-family="Liberation Sans,sans-serif" fill="#f5f5f5" stroke="#f5f5f5" stroke-width="5.5" stroke-linejoin="round" opacity="0.9">Spain</text><text x="1611.9" y="1966.3" font-size="37.5" letter-spacing="1.57" font-family="Liberation Sans,sans-serif" fill="#1d1d1f" stroke="#1d1d1f" stroke-width="1.25" stroke-linejoin="round">Spain</text><text x="1813.1" y="1918.8" font-size="37.5" letter-spacing="3.58" font-family="Liberation Sans,sans-serif" fill="#f5f5f5" stroke="#f5f5f5" stroke-width="5.5" stroke-linejoin="round" opacity="0.9">Italy</text><text x="1813.1" y="1918.8" font-size="37.5" letter-spacing="3.58" font-family="Liberation Sans,sans-serif" fill="#1d1d1f" stroke="#1d1d1f" stroke-width="1.25" stroke-linejoin="round">Italy</text><text x="2045.3" y="1967.2" font-size="37.5" letter-spacing="1.13" font-family="Liberation Sans,sans-serif" fill="#f5f5f5" stroke="#f5f5f5" stroke-width="5.5" stroke-linejoin="round" opacity="0.9">Turkey</text><text x="2045.3" y="1967.2" font-size="37.5" letter-spacing="1.13" font-family="Liberation Sans,sans-serif" fill="#1d1d1f" stroke="#1d1d1f" stroke-width="1.25" stroke-linejoin="round">Turkey</text><text x="1987.0" y="2139.7" font-size="37.5" letter-spacing="1.84" font-family="Liberation Sans,sans-serif" fill="#f5f5f5" stroke="#f5f5f5" stroke-width="5.5" stroke-linejoin="round" opacity="0.9">Egypt</text><text x="1987.0" y="2139.7" font-size="37.5" letter-spacing="1.84" font-family="Liberation Sans,sans-serif" fill="#1d1d1f" stroke="#1d1d1f" stroke-width="1.25" stroke-linejoin="round">Egypt</text><text x="2280.2" y="2058.0" font-size="37.5" letter-spacing="4.58" font-family="Liberation Sans,sans-serif" fill="#f5f5f5" stroke="#f5f5f5" stroke-width="5.5" stroke-linejoin="round" opacity="0.9">Iran</text><text x="2280.2" y="2058.0" font-size="37.5" letter-spacing="4.58" font-family="Liberation Sans,sans-serif" fill="#1d1d1f" stroke="#1d1d1f" stroke-width="1.25" stroke-linejoin="round">Iran</text><text x="1737.5" y="2334.3" font-size="37.5" letter-spacing="2.19" font-family="Liberation Sans,sans-serif" fill="#f5f5f5" stroke="#f5f5f5" stroke-width="5.5" stroke-linejoin="round" opacity="0.9">Nigeria</text><text x="1737.5" y="2334.3" font-size="37.5" letter-spacing="2.19" font-family="Liberation Sans,sans-serif" fill="#1d1d1f" stroke="#1d1d1f" stroke-width="1.25" stroke-linejoin="round">Nigeria</text><text x="1880.8" y="2773.7" font-size="37.5" letter-spacing="1.61" font-family="Liberation Sans,sans-serif" fill="#f5f5f5" stroke="#f5f5f5" stroke-width="5.5" stroke-linejoin="round" opacity="0.9">South Africa</text><text x="1880.8" y="2773.7" font-size="37.5" letter-spacing="1.61" font-family="Liberation Sans,sans-serif" fill="#1d1d1f" stroke="#1d1d1f" stroke-width="1.25" stroke-linejoin="round">South Africa</text><text x="2738.2" y="1494.4" font-size="37.5" letter-spacing="0.23" font-family="Liberation Sans,sans-serif" fill="#f5f5f5" stroke="#f5f5f5" stroke-width="5.5" stroke-linejoin="round" opacity="0.9">Russia</text><text x="2738.2" y="1494.4" font-size="37.5" letter-spacing="0.23" font-family="Liberation Sans,sans-serif" fill="#1d1d1f" stroke="#1d1d1f" stroke-width="1.25" stroke-linejoin="round">Russia</text><text x="2826.5" y="2027.9" font-size="37.5" letter-spacing="1.08" font-family="Liberation Sans,sans-serif" fill="#f5f5f5" stroke="#f5f5f5" stroke-width="5.5" stroke-linejoin="round" opacity="0.9">China</text><text x="2826.5" y="2027.9" font-size="37.5" letter-spacing="1.08" font-family="Liberation Sans,sans-serif" fill="#1d1d1f" stroke="#1d1d1f" stroke-width="1.25" stroke-linejoin="round">China</text><text x="3206.1" y="2005.2" font-size="37.5" letter-spacing="0.37" font-family="Liberation Sans,sans-serif" fill="#f5f5f5" stroke="#f5f5f5" stroke-width="5.5" stroke-linejoin="round" opacity="0.9">Japan</text><text x="3206.1" y="2005.2" font-size="37.5" letter-spacing="0.37" font-family="Liberation Sans,sans-serif" fill="#1d1d1f" stroke="#1d1d1f" stroke-width="1.25" stroke-linejoin="round">Japan</text><text x="2835.9" y="2263.9" font-size="37.5" letter-spacing="2.40" font-family="Liberation Sans,sans-serif" fill="#f5f5f5" stroke="#f5f5f5" stroke-width="5.5" stroke-linejoin="round" opacity="0.9">Vietnam</text><text x="2835.9" y="2263.9" font-size="37.5" letter-spacing="2.40" font-family="Liberation Sans,sans-serif" fill="#1d1d1f" stroke="#1d1d1f" stroke-width="1.25" stroke-linejoin="round">Vietnam</text><text x="2929.3" y="2469.8" font-size="37.5" letter-spacing="2.17" font-family="Liberation Sans,sans-serif" fill="#f5f5f5" stroke="#f5f5f5" stroke-width="5.5" stroke-linejoin="round" opacity="0.9">Indonesia</text><text x="2929.3" y="2469.8" font-size="37.5" letter-spacing="2.17" font-family="Liberation Sans,sans-serif" fill="#1d1d1f" stroke="#1d1d1f" stroke-width="1.25" stroke-linejoin="round">Indonesia</text><text x="3139.4" y="2505.7" font-size="37.5" letter-spacing="1.34" font-family="Liberation Sans,sans-serif" fill="#f5f5f5" stroke="#f5f5f5" stroke-width="5.5" stroke-linejoin="round" opacity="0.9">Papua New Guinea</text><text x="3139.4" y="2505.7" font-size="37.5" letter-spacing="1.34" font-family="Liberation Sans,sans-serif" fill="#1d1d1f" stroke="#1d1d1f" stroke-width="1.25" stroke-linejoin="round">Papua New Guinea</text><text x="3128.0" y="2722.6" font-size="37.5" letter-spacing="1.82" font-family="Liberation Sans,sans-serif" fill="#f5f5f5" stroke="#f5f5f5" stroke-width="5.5" stroke-linejoin="round" opacity="0.9">Australia</text><text x="3128.0" y="2722.6" font-size="37.5" letter-spacing="1.82" font-family="Liberation Sans,sans-serif" fill="#1d1d1f" stroke="#1d1d1f" stroke-width="1.25" stroke-linejoin="round">Australia</text><text x="3512.8" y="2946.5" font-size="37.5" letter-spacing="1.55" font-family="Liberation Sans,sans-serif" fill="#f5f5f5" stroke="#f5f5f5" stroke-width="5.5" stroke-linejoin="round" opacity="0.9">New Zealand</text><text x="3512.8" y="2946.5" font-size="37.5" letter-spacing="1.55" font-family="Liberation Sans,sans-serif" fill="#1d1d1f" stroke="#1d1d1f" stroke-width="1.25" stroke-linejoin="round">New Zealand</text><circle cx="1271.6" cy="2465.1" r="23" fill="#d9efd5" opacity="0.55"/><circle cx="1271.6" cy="2465.1" r="14.2" fill="#a8dca1" stroke="#fff" stroke-width="2.6"/><circle cx="1005.4" cy="2797.8" r="23" fill="#d9efd5" opacity="0.55"/><circle cx="1005.4" cy="2797.8" r="14.2" fill="#a8dca1" stroke="#fff" stroke-width="2.6"/><circle cx="1799.5" cy="2330.2" r="23" fill="#d9efd5" opacity="0.55"/><circle cx="1799.5" cy="2330.2" r="14.2" fill="#a8dca1" stroke="#fff" stroke-width="2.6"/><circle cx="3651.6" cy="2870.5" r="23" fill="#eed9b0" opacity="0.55"/><circle cx="3651.6" cy="2870.5" r="14.2" fill="#e0aa55" stroke="#fff" stroke-width="2.6"/><path d="M367.7 1786.2A48.1 48.1 0 1 1 324.1 1854.6" fill="none" stroke="#a8dca1" stroke-width="16.6"/><path d="M324.1 1854.6A48.1 48.1 0 0 1 367.7 1786.2" fill="none" stroke="#e0aa55" stroke-width="16.6"/><circle cx="367.7" cy="1834.3" r="36.3" fill="url(#dk)" stroke="#fff" stroke-width="2.6"/><text x="367.7" y="1847.0" font-size="35.5" font-weight="700" fill="#fff" text-anchor="middle" font-family="Liberation Sans,sans-serif">59</text><path d="M414.2 1955.8A51.0 51.0 0 1 1 370.0 1981.3" fill="none" stroke="#a8dca1" stroke-width="15.8"/><path d="M370.0 1981.3A51.0 51.0 0 0 1 401.0 1957.5" fill="none" stroke="#ecf6ea" stroke-width="15.8"/><path d="M401.0 1957.5A51.0 51.0 0 0 1 414.2 1955.8" fill="none" stroke="#e0aa55" stroke-width="15.8"/><circle cx="414.2" cy="2006.8" r="39.6" fill="url(#dk)" stroke="#fff" stroke-width="2.6"/><text x="414.2" y="2019.5" font-size="35.5" font-weight="700" fill="#fff" text-anchor="middle" font-family="Liberation Sans,sans-serif">89</text><path d="M641.0 1996.2A48.2 48.2 0 1 1 594.5 2056.9" fill="none" stroke="#a8dca1" stroke-width="15.9"/><path d="M594.5 2056.9A48.2 48.2 0 0 1 624.5 1999.2" fill="none" stroke="#e0aa55" stroke-width="15.9"/><path d="M624.5 1999.2A48.2 48.2 0 0 1 641.0 1996.2" fill="none" stroke="#ecf6ea" stroke-width="15.9"/><circle cx="641.0" cy="2044.4" r="36.7" fill="url(#dk)" stroke="#fff" stroke-width="2.6"/><text x="641.0" y="2057.1" font-size="35.5" font-weight="700" fill="#fff" text-anchor="middle" font-family="Liberation Sans,sans-serif">66</text><path d="M813.0 1919.2A50.9 50.9 0 1 1 771.3 1940.8" fill="none" stroke="#a8dca1" stroke-width="16.1"/><path d="M771.3 1940.8A50.9 50.9 0 0 1 794.0 1922.9" fill="none" stroke="#ecf6ea" stroke-width="16.1"/><path d="M794.0 1922.9A50.9 50.9 0 0 1 813.0 1919.2" fill="none" stroke="#e0aa55" stroke-width="16.1"/><circle cx="813.0" cy="1970.0" r="39.3" fill="url(#dk)" stroke="#fff" stroke-width="2.6"/><text x="813.0" y="1982.4" font-size="34.5" font-weight="700" fill="#fff" text-anchor="middle" font-family="Liberation Sans,sans-serif">293</text><circle cx="888.3" cy="2390.5" r="47.3" fill="none" stroke="#a8dca1" stroke-width="14.4"/><circle cx="888.3" cy="2390.5" r="36.6" fill="url(#dk)" stroke="#fff" stroke-width="2.6"/><text x="888.3" y="2403.2" font-size="35.5" font-weight="700" fill="#fff" text-anchor="middle" font-family="Liberation Sans,sans-serif">8</text><path d="M1187.7 2661.6A47.5 47.5 0 1 1 1140.2 2709.0" fill="none" stroke="#a8dca1" stroke-width="15.9"/><path d="M1140.2 2709.0A47.5 47.5 0 0 1 1187.7 2661.6" fill="none" stroke="#ecf6ea" stroke-width="15.9"/><circle cx="1187.7" cy="2709.0" r="36.0" fill="url(#dk)" stroke="#fff" stroke-width="2.6"/><text x="1187.7" y="2721.7" font-size="35.5" font-weight="700" fill="#fff" text-anchor="middle" font-family="Liberation Sans,sans-serif">21</text><path d="M1755.7 1741.9A59.6 59.6 0 0 1 1758.8 1741.9" fill="none" stroke="#5e5f69" stroke-width="17.3"/><path d="M1758.8 1741.9A59.6 59.6 0 1 1 1721.5 1850.2" fill="none" stroke="#e0aa55" stroke-width="17.3"/><path d="M1721.5 1850.2A59.6 59.6 0 0 1 1717.4 1755.8" fill="none" stroke="#ecf6ea" stroke-width="17.3"/><path d="M1717.4 1755.8A59.6 59.6 0 0 1 1752.6 1741.9" fill="none" stroke="#a8dca1" stroke-width="17.3"/><circle cx="1755.7" cy="1801.4" r="47.4" fill="url(#dk)" stroke="#fff" stroke-width="2.6"/><text x="1755.7" y="1815.7" font-size="40.0" font-weight="700" fill="#fff" text-anchor="middle" font-family="Liberation Sans,sans-serif">4k</text><path d="M1931.5 1654.0A49.6 49.6 0 0 1 1956.3 1746.4" fill="none" stroke="#ecf6ea" stroke-width="16.3"/><path d="M1956.3 1746.4A49.6 49.6 0 0 1 1883.6 1690.7" fill="none" stroke="#e0aa55" stroke-width="16.3"/><path d="M1883.6 1690.7A49.6 49.6 0 0 1 1931.5 1654.0" fill="none" stroke="#a8dca1" stroke-width="16.3"/><circle cx="1931.5" cy="1703.5" r="37.9" fill="url(#dk)" stroke="#fff" stroke-width="2.6"/><text x="1931.5" y="1715.9" font-size="34.5" font-weight="700" fill="#fff" text-anchor="middle" font-family="Liberation Sans,sans-serif">418</text><path d="M2133.4 1637.1A47.4 47.4 0 1 1 2087.6 1672.2" fill="none" stroke="#e0aa55" stroke-width="16.8"/><path d="M2087.6 1672.2A47.4 47.4 0 0 1 2133.4 1637.1" fill="none" stroke="#a8dca1" stroke-width="16.8"/><circle cx="2133.4" cy="1684.5" r="35.5" fill="url(#dk)" stroke="#fff" stroke-width="2.6"/><text x="2133.4" y="1697.2" font-size="35.5" font-weight="700" fill="#fff" text-anchor="middle" font-family="Liberation Sans,sans-serif">10</text><path d="M2102.5 2005.8A49.8 49.8 0 0 1 2106.8 2006.0" fill="none" stroke="#a8dca1" stroke-width="16.8"/><path d="M2106.8 2006.0A49.8 49.8 0 0 1 2102.5 2105.4" fill="none" stroke="#ecf6ea" stroke-width="16.8"/><path d="M2102.5 2105.4A49.8 49.8 0 0 1 2099.9 2005.9" fill="none" stroke="#e0aa55" stroke-width="16.8"/><circle cx="2102.5" cy="2055.6" r="37.9" fill="url(#dk)" stroke="#fff" stroke-width="2.6"/><text x="2102.5" y="2068.0" font-size="34.5" font-weight="700" fill="#fff" text-anchor="middle" font-family="Liberation Sans,sans-serif">254</text><path d="M2329.2 2097.8A46.7 46.7 0 1 1 2302.4 2182.8" fill="none" stroke="#a8dca1" stroke-width="15.8"/><path d="M2302.4 2182.8A46.7 46.7 0 0 1 2329.2 2097.8" fill="none" stroke="#ecf6ea" stroke-width="15.8"/><circle cx="2329.2" cy="2144.5" r="35.3" fill="url(#dk)" stroke="#fff" stroke-width="2.6"/><text x="2329.2" y="2157.2" font-size="35.5" font-weight="700" fill="#fff" text-anchor="middle" font-family="Liberation Sans,sans-serif">3</text><circle cx="1985.7" cy="2778.7" r="48.2" fill="none" stroke="#a8dca1" stroke-width="16.3"/><circle cx="1985.7" cy="2778.7" r="36.6" fill="url(#dk)" stroke="#fff" stroke-width="2.6"/><text x="1985.7" y="2791.4" font-size="35.5" font-weight="700" fill="#fff" text-anchor="middle" font-family="Liberation Sans,sans-serif">4</text><path d="M2548.9 2192.1A50.8 50.8 0 0 1 2551.6 2192.1" fill="none" stroke="#ecf6ea" stroke-width="16.3"/><path d="M2551.6 2192.1A50.8 50.8 0 1 1 2507.3 2271.9" fill="none" stroke="#e0aa55" stroke-width="16.3"/><path d="M2507.3 2271.9A50.8 50.8 0 0 1 2546.2 2192.1" fill="none" stroke="#a8dca1" stroke-width="16.3"/><circle cx="2548.9" cy="2242.8" r="39.1" fill="url(#dk)" stroke="#fff" stroke-width="2.6"/><text x="2548.9" y="2255.2" font-size="34.5" font-weight="700" fill="#fff" text-anchor="middle" font-family="Liberation Sans,sans-serif">115</text><circle cx="2708.9" cy="2169.9" r="47.5" fill="none" stroke="#a8dca1" stroke-width="15.7"/><circle cx="2708.9" cy="2169.9" r="36.2" fill="url(#dk)" stroke="#fff" stroke-width="2.6"/><text x="2708.9" y="2182.6" font-size="35.5" font-weight="700" fill="#fff" text-anchor="middle" font-family="Liberation Sans,sans-serif">5</text><path d="M2841.4 1948.6A47.6 47.6 0 1 1 2793.8 1996.2" fill="none" stroke="#e0aa55" stroke-width="16.8"/><path d="M2793.8 1996.2A47.6 47.6 0 0 1 2841.4 1948.6" fill="none" stroke="#a8dca1" stroke-width="16.8"/><circle cx="2841.4" cy="1996.2" r="35.7" fill="url(#dk)" stroke="#fff" stroke-width="2.6"/><text x="2841.4" y="2008.9" font-size="35.5" font-weight="700" fill="#fff" text-anchor="middle" font-family="Liberation Sans,sans-serif">47</text><path d="M2975.5 2119.2A49.7 49.7 0 0 1 3016.2 2197.4" fill="none" stroke="#e0aa55" stroke-width="15.8"/><path d="M3016.2 2197.4A49.7 49.7 0 0 1 2930.5 2189.9" fill="none" stroke="#a8dca1" stroke-width="15.8"/><path d="M2930.5 2189.9A49.7 49.7 0 0 1 2975.5 2119.2" fill="none" stroke="#ecf6ea" stroke-width="15.8"/><circle cx="2975.5" cy="2168.9" r="38.3" fill="url(#dk)" stroke="#fff" stroke-width="2.6"/><text x="2975.5" y="2181.3" font-size="34.5" font-weight="700" fill="#fff" text-anchor="middle" font-family="Liberation Sans,sans-serif">586</text><path d="M3183.0 1954.0A52.8 52.8 0 1 1 3178.4 2059.4" fill="none" stroke="#e0aa55" stroke-width="16.8"/><path d="M3178.4 2059.4A52.8 52.8 0 0 1 3156.6 1961.1" fill="none" stroke="#ecf6ea" stroke-width="16.8"/><path d="M3156.6 1961.1A52.8 52.8 0 0 1 3183.0 1954.0" fill="none" stroke="#a8dca1" stroke-width="16.8"/><circle cx="3183.0" cy="2006.8" r="40.9" fill="url(#dk)" stroke="#fff" stroke-width="2.6"/><text x="3183.0" y="2020.4" font-size="38.0" font-weight="700" fill="#fff" text-anchor="middle" font-family="Liberation Sans,sans-serif">2k</text><path d="M2866.2 2356.5A56.3 56.3 0 1 1 2817.4 2441.0" fill="none" stroke="#ecf6ea" stroke-width="16.8"/><path d="M2817.4 2441.0A56.3 56.3 0 0 1 2817.4 2384.7" fill="none" stroke="#e0aa55" stroke-width="16.8"/><path d="M2817.4 2384.7A56.3 56.3 0 0 1 2866.2 2356.5" fill="none" stroke="#a8dca1" stroke-width="16.8"/><circle cx="2866.2" cy="2412.8" r="44.4" fill="url(#dk)" stroke="#fff" stroke-width="2.6"/><text x="2866.2" y="2426.4" font-size="38.0" font-weight="700" fill="#fff" text-anchor="middle" font-family="Liberation Sans,sans-serif">2k</text><path d="M3390.6 2779.7A50.7 50.7 0 1 1 3386.2 2880.8" fill="none" stroke="#e0aa55" stroke-width="17.9"/><path d="M3386.2 2880.8A50.7 50.7 0 0 1 3386.2 2779.8" fill="none" stroke="#ecf6ea" stroke-width="17.9"/><path d="M3386.2 2779.8A50.7 50.7 0 0 1 3390.6 2779.7" fill="none" stroke="#a8dca1" stroke-width="17.9"/><circle cx="3390.6" cy="2830.3" r="38.2" fill="url(#dk)" stroke="#fff" stroke-width="2.6"/><text x="3390.6" y="2842.7" font-size="34.5" font-weight="700" fill="#fff" text-anchor="middle" font-family="Liberation Sans,sans-serif">381</text><rect x="3889.4" y="1306.9" width="146.6" height="291.3" fill="#000" opacity="0.1"/><rect x="3889.4" y="2938.8" width="146.6" height="140" fill="#000" opacity="0.1"/><rect x="3925.6" y="1325.7" width="73.3" height="217.8" rx="14" fill="#fff" stroke="#e6e6ee" stroke-width="2"/><path d="M3943.9 1362.4h37M3962.4 1343.9v37" stroke="#5f666d" stroke-width="4" fill="none"/><path d="M3943.9 1431.4h37" stroke="#a9acaf" stroke-width="4" fill="none"/><path d="M3945.7 1490v-6.7h7.5M3971.6 1483.3h7.5v6.7M3979.1 1509.8v6.7h-7.5M3953.2 1516.5h-7.5v-6.7" stroke="#5f666d" stroke-width="3.6" fill="none"/><rect x="3953.4" y="1494.6" width="18.2" height="10.6" fill="none" stroke="#5f666d" stroke-width="3.6"/><rect x="3923" y="2954" width="79" height="79.6" rx="16" fill="#fff" stroke="#e6e6ee" stroke-width="2"/><circle cx="3962.4" cy="2993.8" r="19" fill="#6c7379"/><path d="M3957.5 2982.5h7.2v5.2h-7.2zM3956 2991.2h8.8v11h3.4v4.2h-12.6v-4.2h3.6v-6.8h-3.2z" fill="#fff"/></svg>
<span class="t" style="left:77.8px;top:1212.3px;font-size:48.4px;letter-spacing:0.67px;color:#272e36;">Visitor Map</span>
</body></html>
